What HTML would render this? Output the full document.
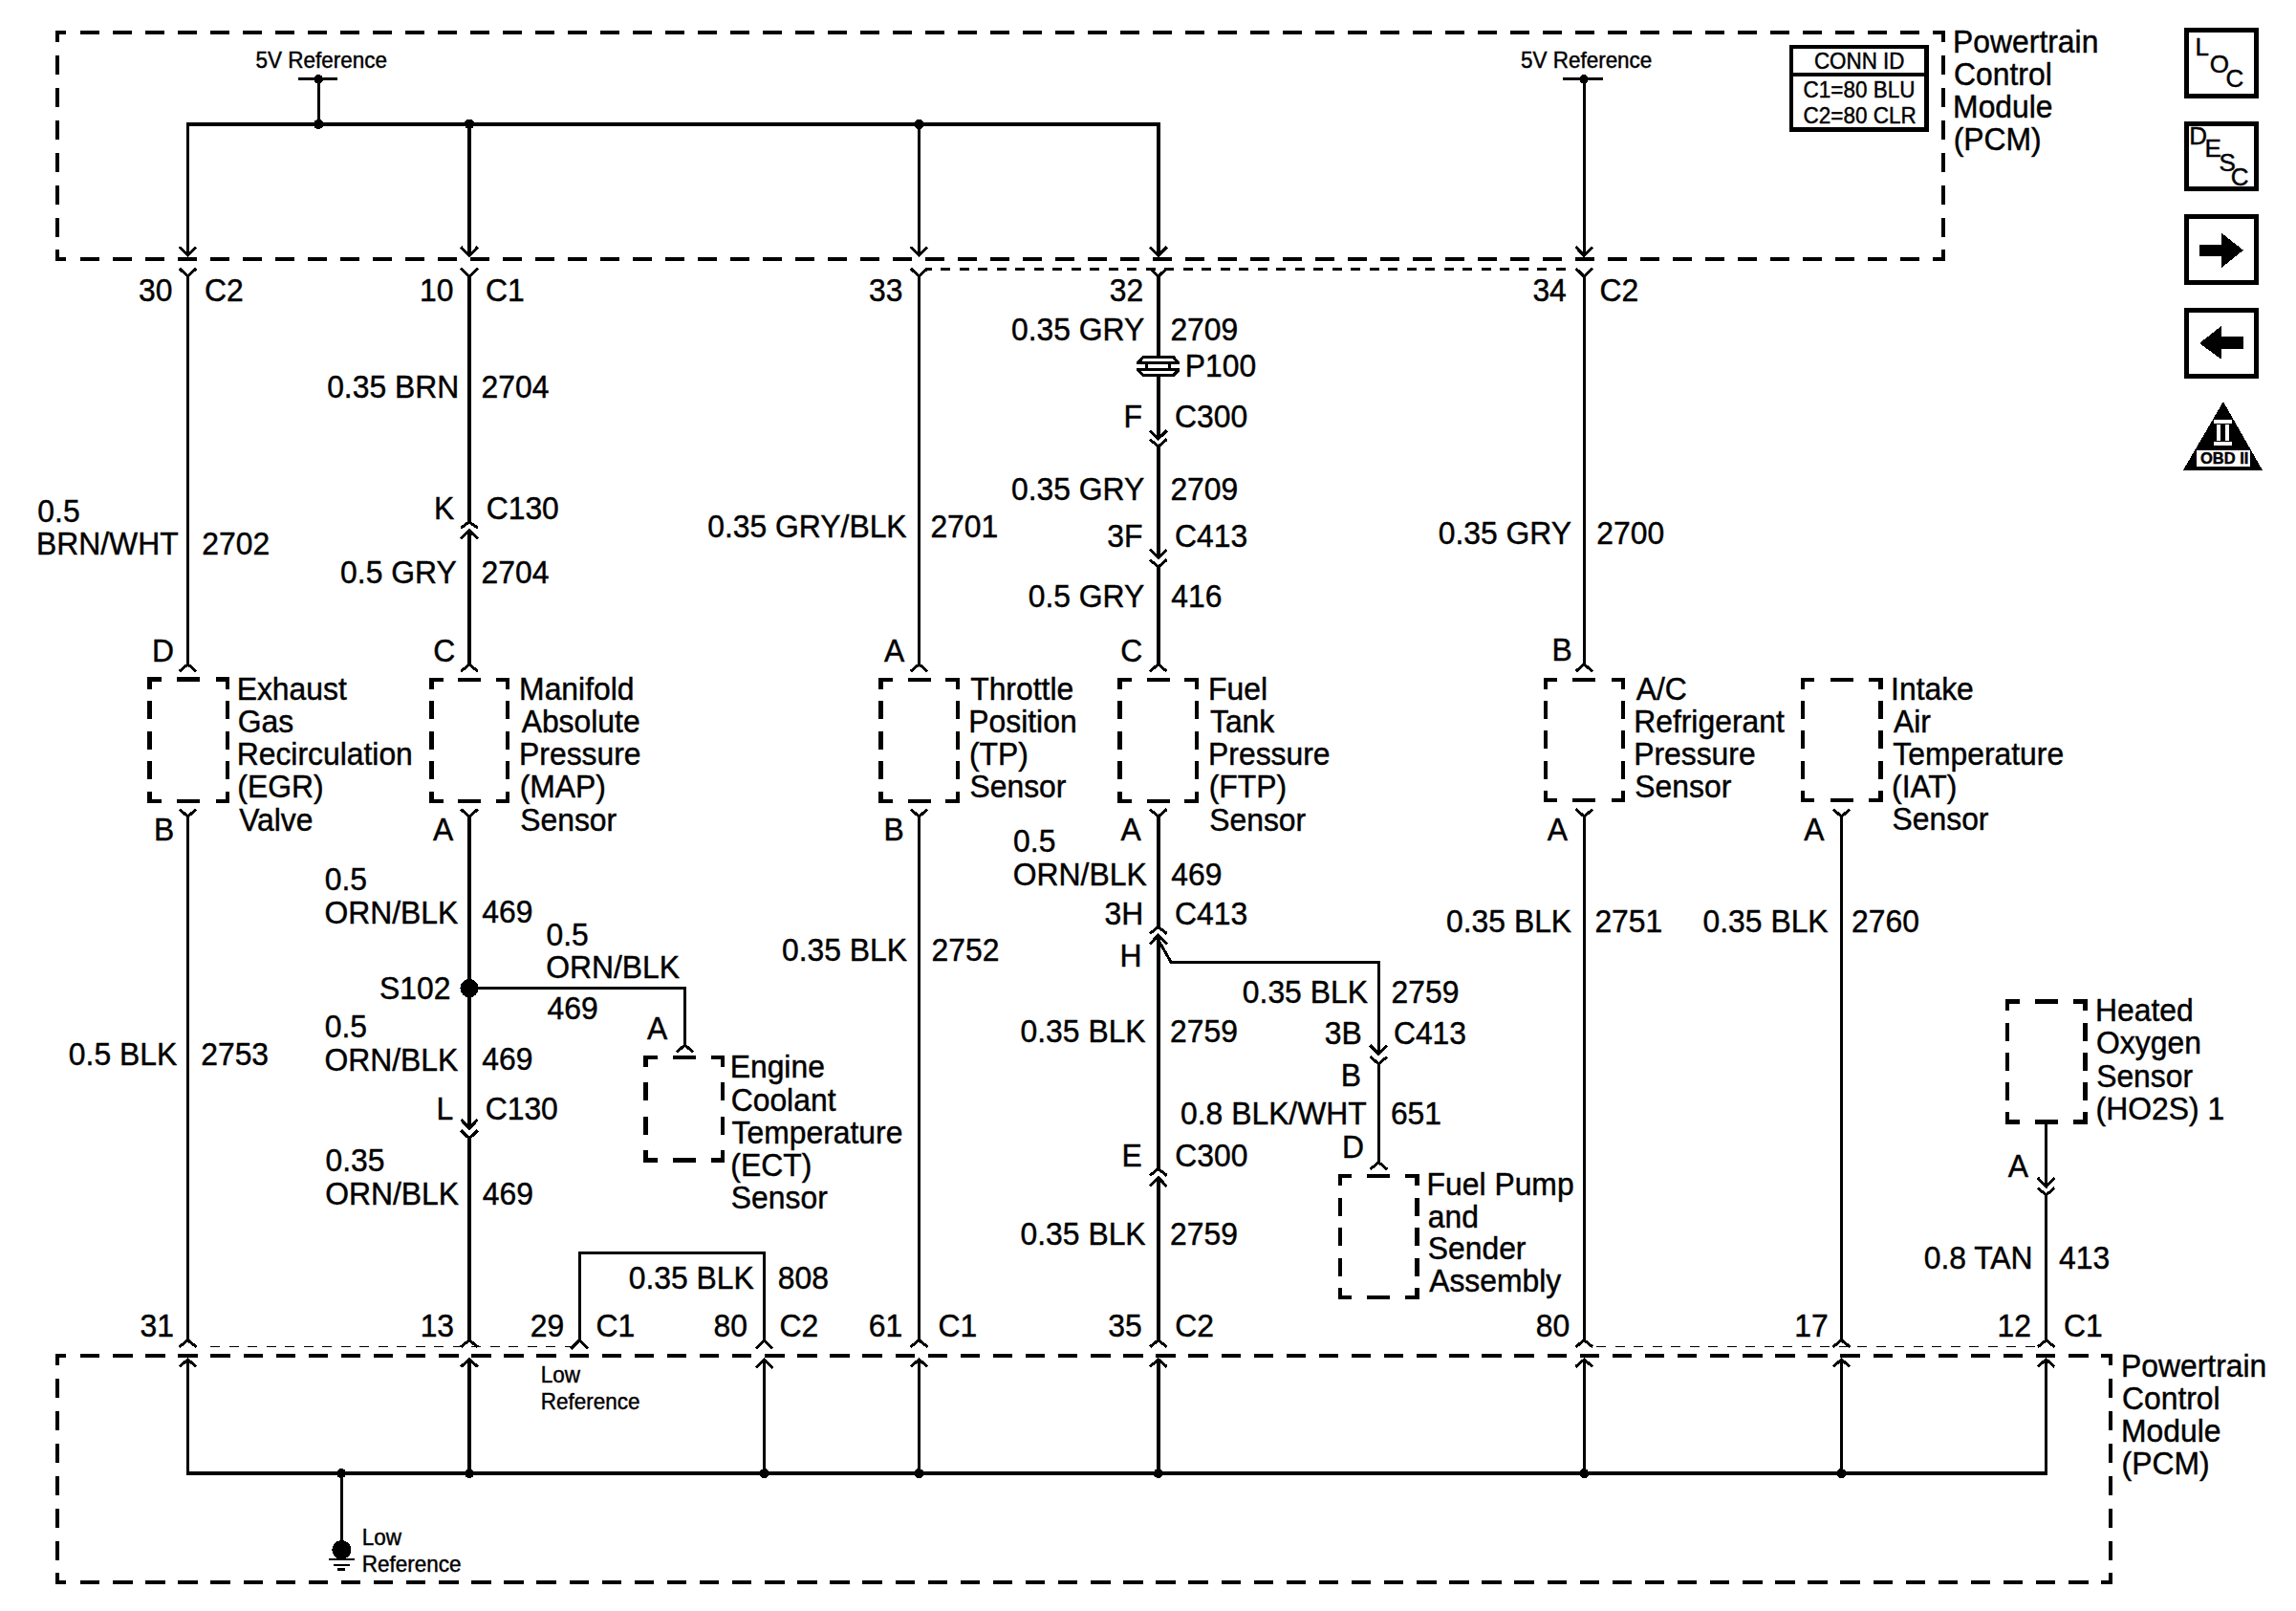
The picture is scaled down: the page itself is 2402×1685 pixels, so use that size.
<!DOCTYPE html>
<html><head><meta charset="utf-8"><title>PCM Sensor Wiring Diagram</title>
<style>
html,body{margin:0;padding:0;background:#fff;width:2402px;height:1685px;overflow:hidden}
svg{display:block}
text{font-family:"Liberation Sans",sans-serif;stroke:#000;stroke-width:0.45px}
</style></head>
<body>
<svg width="2402" height="1685" viewBox="0 0 2402 1685" stroke="#000" stroke-linecap="butt" fill="none" shape-rendering="crispEdges">
<rect x="0" y="0" width="2402" height="1685" fill="#fff" stroke="none"/>
<polyline points="69.10,33.80 59.60,33.80 59.60,43.80" fill="none" stroke-width="4" stroke-linecap="butt" stroke-linejoin="miter"/>
<polyline points="2022.20,33.80 2032.70,33.80 2032.70,43.80" fill="none" stroke-width="4" stroke-linecap="butt" stroke-linejoin="miter"/>
<polyline points="69.10,270.80 59.60,270.80 59.60,260.80" fill="none" stroke-width="4" stroke-linecap="butt" stroke-linejoin="miter"/>
<polyline points="2022.20,270.80 2032.70,270.80 2032.70,260.80" fill="none" stroke-width="4" stroke-linecap="butt" stroke-linejoin="miter"/>
<line x1="84.00" y1="33.80" x2="104.40" y2="33.80" stroke-width="4"/>
<line x1="118.00" y1="33.80" x2="138.40" y2="33.80" stroke-width="4"/>
<line x1="152.00" y1="33.80" x2="172.40" y2="33.80" stroke-width="4"/>
<line x1="186.00" y1="33.80" x2="206.40" y2="33.80" stroke-width="4"/>
<line x1="220.00" y1="33.80" x2="240.40" y2="33.80" stroke-width="4"/>
<line x1="254.00" y1="33.80" x2="274.40" y2="33.80" stroke-width="4"/>
<line x1="288.00" y1="33.80" x2="308.40" y2="33.80" stroke-width="4"/>
<line x1="322.00" y1="33.80" x2="342.40" y2="33.80" stroke-width="4"/>
<line x1="356.00" y1="33.80" x2="376.40" y2="33.80" stroke-width="4"/>
<line x1="390.00" y1="33.80" x2="410.40" y2="33.80" stroke-width="4"/>
<line x1="424.00" y1="33.80" x2="444.40" y2="33.80" stroke-width="4"/>
<line x1="458.00" y1="33.80" x2="478.40" y2="33.80" stroke-width="4"/>
<line x1="492.00" y1="33.80" x2="512.40" y2="33.80" stroke-width="4"/>
<line x1="526.00" y1="33.80" x2="546.40" y2="33.80" stroke-width="4"/>
<line x1="560.00" y1="33.80" x2="580.40" y2="33.80" stroke-width="4"/>
<line x1="594.00" y1="33.80" x2="614.40" y2="33.80" stroke-width="4"/>
<line x1="628.00" y1="33.80" x2="648.40" y2="33.80" stroke-width="4"/>
<line x1="662.00" y1="33.80" x2="682.40" y2="33.80" stroke-width="4"/>
<line x1="696.00" y1="33.80" x2="716.40" y2="33.80" stroke-width="4"/>
<line x1="730.00" y1="33.80" x2="750.40" y2="33.80" stroke-width="4"/>
<line x1="764.00" y1="33.80" x2="784.40" y2="33.80" stroke-width="4"/>
<line x1="798.00" y1="33.80" x2="818.40" y2="33.80" stroke-width="4"/>
<line x1="832.00" y1="33.80" x2="852.40" y2="33.80" stroke-width="4"/>
<line x1="866.00" y1="33.80" x2="886.40" y2="33.80" stroke-width="4"/>
<line x1="900.00" y1="33.80" x2="920.40" y2="33.80" stroke-width="4"/>
<line x1="934.00" y1="33.80" x2="954.40" y2="33.80" stroke-width="4"/>
<line x1="968.00" y1="33.80" x2="988.40" y2="33.80" stroke-width="4"/>
<line x1="1002.00" y1="33.80" x2="1022.40" y2="33.80" stroke-width="4"/>
<line x1="1036.00" y1="33.80" x2="1056.40" y2="33.80" stroke-width="4"/>
<line x1="1070.00" y1="33.80" x2="1090.40" y2="33.80" stroke-width="4"/>
<line x1="1104.00" y1="33.80" x2="1124.40" y2="33.80" stroke-width="4"/>
<line x1="1138.00" y1="33.80" x2="1158.40" y2="33.80" stroke-width="4"/>
<line x1="1172.00" y1="33.80" x2="1192.40" y2="33.80" stroke-width="4"/>
<line x1="1206.00" y1="33.80" x2="1226.40" y2="33.80" stroke-width="4"/>
<line x1="1240.00" y1="33.80" x2="1260.40" y2="33.80" stroke-width="4"/>
<line x1="1274.00" y1="33.80" x2="1294.40" y2="33.80" stroke-width="4"/>
<line x1="1308.00" y1="33.80" x2="1328.40" y2="33.80" stroke-width="4"/>
<line x1="1342.00" y1="33.80" x2="1362.40" y2="33.80" stroke-width="4"/>
<line x1="1376.00" y1="33.80" x2="1396.40" y2="33.80" stroke-width="4"/>
<line x1="1410.00" y1="33.80" x2="1430.40" y2="33.80" stroke-width="4"/>
<line x1="1444.00" y1="33.80" x2="1464.40" y2="33.80" stroke-width="4"/>
<line x1="1478.00" y1="33.80" x2="1498.40" y2="33.80" stroke-width="4"/>
<line x1="1512.00" y1="33.80" x2="1532.40" y2="33.80" stroke-width="4"/>
<line x1="1546.00" y1="33.80" x2="1566.40" y2="33.80" stroke-width="4"/>
<line x1="1580.00" y1="33.80" x2="1600.40" y2="33.80" stroke-width="4"/>
<line x1="1614.00" y1="33.80" x2="1634.40" y2="33.80" stroke-width="4"/>
<line x1="1648.00" y1="33.80" x2="1668.40" y2="33.80" stroke-width="4"/>
<line x1="1682.00" y1="33.80" x2="1702.40" y2="33.80" stroke-width="4"/>
<line x1="1716.00" y1="33.80" x2="1736.40" y2="33.80" stroke-width="4"/>
<line x1="1750.00" y1="33.80" x2="1770.40" y2="33.80" stroke-width="4"/>
<line x1="1784.00" y1="33.80" x2="1804.40" y2="33.80" stroke-width="4"/>
<line x1="1818.00" y1="33.80" x2="1838.40" y2="33.80" stroke-width="4"/>
<line x1="1852.00" y1="33.80" x2="1872.40" y2="33.80" stroke-width="4"/>
<line x1="1886.00" y1="33.80" x2="1906.40" y2="33.80" stroke-width="4"/>
<line x1="1920.00" y1="33.80" x2="1940.40" y2="33.80" stroke-width="4"/>
<line x1="1954.00" y1="33.80" x2="1974.40" y2="33.80" stroke-width="4"/>
<line x1="1988.00" y1="33.80" x2="2008.40" y2="33.80" stroke-width="4"/>
<line x1="84.00" y1="270.80" x2="104.40" y2="270.80" stroke-width="4"/>
<line x1="118.00" y1="270.80" x2="138.40" y2="270.80" stroke-width="4"/>
<line x1="152.00" y1="270.80" x2="172.40" y2="270.80" stroke-width="4"/>
<line x1="186.00" y1="270.80" x2="206.40" y2="270.80" stroke-width="4"/>
<line x1="220.00" y1="270.80" x2="240.40" y2="270.80" stroke-width="4"/>
<line x1="254.00" y1="270.80" x2="274.40" y2="270.80" stroke-width="4"/>
<line x1="288.00" y1="270.80" x2="308.40" y2="270.80" stroke-width="4"/>
<line x1="322.00" y1="270.80" x2="342.40" y2="270.80" stroke-width="4"/>
<line x1="356.00" y1="270.80" x2="376.40" y2="270.80" stroke-width="4"/>
<line x1="390.00" y1="270.80" x2="410.40" y2="270.80" stroke-width="4"/>
<line x1="424.00" y1="270.80" x2="444.40" y2="270.80" stroke-width="4"/>
<line x1="458.00" y1="270.80" x2="478.40" y2="270.80" stroke-width="4"/>
<line x1="492.00" y1="270.80" x2="512.40" y2="270.80" stroke-width="4"/>
<line x1="526.00" y1="270.80" x2="546.40" y2="270.80" stroke-width="4"/>
<line x1="560.00" y1="270.80" x2="580.40" y2="270.80" stroke-width="4"/>
<line x1="594.00" y1="270.80" x2="614.40" y2="270.80" stroke-width="4"/>
<line x1="628.00" y1="270.80" x2="648.40" y2="270.80" stroke-width="4"/>
<line x1="662.00" y1="270.80" x2="682.40" y2="270.80" stroke-width="4"/>
<line x1="696.00" y1="270.80" x2="716.40" y2="270.80" stroke-width="4"/>
<line x1="730.00" y1="270.80" x2="750.40" y2="270.80" stroke-width="4"/>
<line x1="764.00" y1="270.80" x2="784.40" y2="270.80" stroke-width="4"/>
<line x1="798.00" y1="270.80" x2="818.40" y2="270.80" stroke-width="4"/>
<line x1="832.00" y1="270.80" x2="852.40" y2="270.80" stroke-width="4"/>
<line x1="866.00" y1="270.80" x2="886.40" y2="270.80" stroke-width="4"/>
<line x1="900.00" y1="270.80" x2="920.40" y2="270.80" stroke-width="4"/>
<line x1="934.00" y1="270.80" x2="954.40" y2="270.80" stroke-width="4"/>
<line x1="968.00" y1="270.80" x2="988.40" y2="270.80" stroke-width="4"/>
<line x1="1002.00" y1="270.80" x2="1022.40" y2="270.80" stroke-width="4"/>
<line x1="1036.00" y1="270.80" x2="1056.40" y2="270.80" stroke-width="4"/>
<line x1="1070.00" y1="270.80" x2="1090.40" y2="270.80" stroke-width="4"/>
<line x1="1104.00" y1="270.80" x2="1124.40" y2="270.80" stroke-width="4"/>
<line x1="1138.00" y1="270.80" x2="1158.40" y2="270.80" stroke-width="4"/>
<line x1="1172.00" y1="270.80" x2="1192.40" y2="270.80" stroke-width="4"/>
<line x1="1206.00" y1="270.80" x2="1226.40" y2="270.80" stroke-width="4"/>
<line x1="1240.00" y1="270.80" x2="1260.40" y2="270.80" stroke-width="4"/>
<line x1="1274.00" y1="270.80" x2="1294.40" y2="270.80" stroke-width="4"/>
<line x1="1308.00" y1="270.80" x2="1328.40" y2="270.80" stroke-width="4"/>
<line x1="1342.00" y1="270.80" x2="1362.40" y2="270.80" stroke-width="4"/>
<line x1="1376.00" y1="270.80" x2="1396.40" y2="270.80" stroke-width="4"/>
<line x1="1410.00" y1="270.80" x2="1430.40" y2="270.80" stroke-width="4"/>
<line x1="1444.00" y1="270.80" x2="1464.40" y2="270.80" stroke-width="4"/>
<line x1="1478.00" y1="270.80" x2="1498.40" y2="270.80" stroke-width="4"/>
<line x1="1512.00" y1="270.80" x2="1532.40" y2="270.80" stroke-width="4"/>
<line x1="1546.00" y1="270.80" x2="1566.40" y2="270.80" stroke-width="4"/>
<line x1="1580.00" y1="270.80" x2="1600.40" y2="270.80" stroke-width="4"/>
<line x1="1614.00" y1="270.80" x2="1634.40" y2="270.80" stroke-width="4"/>
<line x1="1648.00" y1="270.80" x2="1668.40" y2="270.80" stroke-width="4"/>
<line x1="1682.00" y1="270.80" x2="1702.40" y2="270.80" stroke-width="4"/>
<line x1="1716.00" y1="270.80" x2="1736.40" y2="270.80" stroke-width="4"/>
<line x1="1750.00" y1="270.80" x2="1770.40" y2="270.80" stroke-width="4"/>
<line x1="1784.00" y1="270.80" x2="1804.40" y2="270.80" stroke-width="4"/>
<line x1="1818.00" y1="270.80" x2="1838.40" y2="270.80" stroke-width="4"/>
<line x1="1852.00" y1="270.80" x2="1872.40" y2="270.80" stroke-width="4"/>
<line x1="1886.00" y1="270.80" x2="1906.40" y2="270.80" stroke-width="4"/>
<line x1="1920.00" y1="270.80" x2="1940.40" y2="270.80" stroke-width="4"/>
<line x1="1954.00" y1="270.80" x2="1974.40" y2="270.80" stroke-width="4"/>
<line x1="1988.00" y1="270.80" x2="2008.40" y2="270.80" stroke-width="4"/>
<line x1="59.60" y1="58.20" x2="59.60" y2="77.80" stroke-width="4"/>
<line x1="59.60" y1="92.20" x2="59.60" y2="111.80" stroke-width="4"/>
<line x1="59.60" y1="126.20" x2="59.60" y2="145.80" stroke-width="4"/>
<line x1="59.60" y1="160.20" x2="59.60" y2="179.80" stroke-width="4"/>
<line x1="59.60" y1="194.20" x2="59.60" y2="213.80" stroke-width="4"/>
<line x1="59.60" y1="228.20" x2="59.60" y2="247.80" stroke-width="4"/>
<line x1="2032.70" y1="58.20" x2="2032.70" y2="77.80" stroke-width="4"/>
<line x1="2032.70" y1="92.20" x2="2032.70" y2="111.80" stroke-width="4"/>
<line x1="2032.70" y1="126.20" x2="2032.70" y2="145.80" stroke-width="4"/>
<line x1="2032.70" y1="160.20" x2="2032.70" y2="179.80" stroke-width="4"/>
<line x1="2032.70" y1="194.20" x2="2032.70" y2="213.80" stroke-width="4"/>
<line x1="2032.70" y1="228.20" x2="2032.70" y2="247.80" stroke-width="4"/>
<polyline points="68.90,1417.90 59.50,1417.90 59.50,1427.60" fill="none" stroke-width="4" stroke-linecap="butt" stroke-linejoin="miter"/>
<polyline points="2197.80,1417.90 2207.90,1417.90 2207.90,1427.60" fill="none" stroke-width="4" stroke-linecap="butt" stroke-linejoin="miter"/>
<polyline points="68.90,1655.20 59.50,1655.20 59.50,1644.90" fill="none" stroke-width="4" stroke-linecap="butt" stroke-linejoin="miter"/>
<polyline points="2197.80,1655.20 2207.90,1655.20 2207.90,1644.90" fill="none" stroke-width="4" stroke-linecap="butt" stroke-linejoin="miter"/>
<line x1="84.00" y1="1417.90" x2="104.40" y2="1417.90" stroke-width="4"/>
<line x1="118.10" y1="1417.90" x2="138.50" y2="1417.90" stroke-width="4"/>
<line x1="152.20" y1="1417.90" x2="172.60" y2="1417.90" stroke-width="4"/>
<line x1="186.30" y1="1417.90" x2="206.70" y2="1417.90" stroke-width="4"/>
<line x1="220.40" y1="1417.90" x2="240.80" y2="1417.90" stroke-width="4"/>
<line x1="254.50" y1="1417.90" x2="274.90" y2="1417.90" stroke-width="4"/>
<line x1="288.60" y1="1417.90" x2="309.00" y2="1417.90" stroke-width="4"/>
<line x1="322.70" y1="1417.90" x2="343.10" y2="1417.90" stroke-width="4"/>
<line x1="356.80" y1="1417.90" x2="377.20" y2="1417.90" stroke-width="4"/>
<line x1="390.90" y1="1417.90" x2="411.30" y2="1417.90" stroke-width="4"/>
<line x1="425.00" y1="1417.90" x2="445.40" y2="1417.90" stroke-width="4"/>
<line x1="459.10" y1="1417.90" x2="479.50" y2="1417.90" stroke-width="4"/>
<line x1="493.20" y1="1417.90" x2="513.60" y2="1417.90" stroke-width="4"/>
<line x1="527.30" y1="1417.90" x2="547.70" y2="1417.90" stroke-width="4"/>
<line x1="561.40" y1="1417.90" x2="581.80" y2="1417.90" stroke-width="4"/>
<line x1="595.50" y1="1417.90" x2="615.90" y2="1417.90" stroke-width="4"/>
<line x1="629.60" y1="1417.90" x2="650.00" y2="1417.90" stroke-width="4"/>
<line x1="663.70" y1="1417.90" x2="684.10" y2="1417.90" stroke-width="4"/>
<line x1="697.80" y1="1417.90" x2="718.20" y2="1417.90" stroke-width="4"/>
<line x1="731.90" y1="1417.90" x2="752.30" y2="1417.90" stroke-width="4"/>
<line x1="766.00" y1="1417.90" x2="786.40" y2="1417.90" stroke-width="4"/>
<line x1="800.10" y1="1417.90" x2="820.50" y2="1417.90" stroke-width="4"/>
<line x1="834.20" y1="1417.90" x2="854.60" y2="1417.90" stroke-width="4"/>
<line x1="868.30" y1="1417.90" x2="888.70" y2="1417.90" stroke-width="4"/>
<line x1="902.40" y1="1417.90" x2="922.80" y2="1417.90" stroke-width="4"/>
<line x1="936.50" y1="1417.90" x2="956.90" y2="1417.90" stroke-width="4"/>
<line x1="970.60" y1="1417.90" x2="991.00" y2="1417.90" stroke-width="4"/>
<line x1="1004.70" y1="1417.90" x2="1025.10" y2="1417.90" stroke-width="4"/>
<line x1="1038.80" y1="1417.90" x2="1059.20" y2="1417.90" stroke-width="4"/>
<line x1="1072.90" y1="1417.90" x2="1093.30" y2="1417.90" stroke-width="4"/>
<line x1="1107.00" y1="1417.90" x2="1127.40" y2="1417.90" stroke-width="4"/>
<line x1="1141.10" y1="1417.90" x2="1161.50" y2="1417.90" stroke-width="4"/>
<line x1="1175.20" y1="1417.90" x2="1195.60" y2="1417.90" stroke-width="4"/>
<line x1="1209.30" y1="1417.90" x2="1229.70" y2="1417.90" stroke-width="4"/>
<line x1="1243.40" y1="1417.90" x2="1263.80" y2="1417.90" stroke-width="4"/>
<line x1="1277.50" y1="1417.90" x2="1297.90" y2="1417.90" stroke-width="4"/>
<line x1="1311.60" y1="1417.90" x2="1332.00" y2="1417.90" stroke-width="4"/>
<line x1="1345.70" y1="1417.90" x2="1366.10" y2="1417.90" stroke-width="4"/>
<line x1="1379.80" y1="1417.90" x2="1400.20" y2="1417.90" stroke-width="4"/>
<line x1="1413.90" y1="1417.90" x2="1434.30" y2="1417.90" stroke-width="4"/>
<line x1="1448.00" y1="1417.90" x2="1468.40" y2="1417.90" stroke-width="4"/>
<line x1="1482.10" y1="1417.90" x2="1502.50" y2="1417.90" stroke-width="4"/>
<line x1="1516.20" y1="1417.90" x2="1536.60" y2="1417.90" stroke-width="4"/>
<line x1="1550.30" y1="1417.90" x2="1570.70" y2="1417.90" stroke-width="4"/>
<line x1="1584.40" y1="1417.90" x2="1604.80" y2="1417.90" stroke-width="4"/>
<line x1="1618.50" y1="1417.90" x2="1638.90" y2="1417.90" stroke-width="4"/>
<line x1="1652.60" y1="1417.90" x2="1673.00" y2="1417.90" stroke-width="4"/>
<line x1="1686.70" y1="1417.90" x2="1707.10" y2="1417.90" stroke-width="4"/>
<line x1="1720.80" y1="1417.90" x2="1741.20" y2="1417.90" stroke-width="4"/>
<line x1="1754.90" y1="1417.90" x2="1775.30" y2="1417.90" stroke-width="4"/>
<line x1="1789.00" y1="1417.90" x2="1809.40" y2="1417.90" stroke-width="4"/>
<line x1="1823.10" y1="1417.90" x2="1843.50" y2="1417.90" stroke-width="4"/>
<line x1="1857.20" y1="1417.90" x2="1877.60" y2="1417.90" stroke-width="4"/>
<line x1="1891.30" y1="1417.90" x2="1911.70" y2="1417.90" stroke-width="4"/>
<line x1="1925.40" y1="1417.90" x2="1945.80" y2="1417.90" stroke-width="4"/>
<line x1="1959.50" y1="1417.90" x2="1979.90" y2="1417.90" stroke-width="4"/>
<line x1="1993.60" y1="1417.90" x2="2014.00" y2="1417.90" stroke-width="4"/>
<line x1="2027.70" y1="1417.90" x2="2048.10" y2="1417.90" stroke-width="4"/>
<line x1="2061.80" y1="1417.90" x2="2082.20" y2="1417.90" stroke-width="4"/>
<line x1="2095.90" y1="1417.90" x2="2116.30" y2="1417.90" stroke-width="4"/>
<line x1="2130.00" y1="1417.90" x2="2150.40" y2="1417.90" stroke-width="4"/>
<line x1="2164.10" y1="1417.90" x2="2184.50" y2="1417.90" stroke-width="4"/>
<line x1="84.00" y1="1655.20" x2="104.40" y2="1655.20" stroke-width="4"/>
<line x1="118.10" y1="1655.20" x2="138.50" y2="1655.20" stroke-width="4"/>
<line x1="152.20" y1="1655.20" x2="172.60" y2="1655.20" stroke-width="4"/>
<line x1="186.30" y1="1655.20" x2="206.70" y2="1655.20" stroke-width="4"/>
<line x1="220.40" y1="1655.20" x2="240.80" y2="1655.20" stroke-width="4"/>
<line x1="254.50" y1="1655.20" x2="274.90" y2="1655.20" stroke-width="4"/>
<line x1="288.60" y1="1655.20" x2="309.00" y2="1655.20" stroke-width="4"/>
<line x1="322.70" y1="1655.20" x2="343.10" y2="1655.20" stroke-width="4"/>
<line x1="356.80" y1="1655.20" x2="377.20" y2="1655.20" stroke-width="4"/>
<line x1="390.90" y1="1655.20" x2="411.30" y2="1655.20" stroke-width="4"/>
<line x1="425.00" y1="1655.20" x2="445.40" y2="1655.20" stroke-width="4"/>
<line x1="459.10" y1="1655.20" x2="479.50" y2="1655.20" stroke-width="4"/>
<line x1="493.20" y1="1655.20" x2="513.60" y2="1655.20" stroke-width="4"/>
<line x1="527.30" y1="1655.20" x2="547.70" y2="1655.20" stroke-width="4"/>
<line x1="561.40" y1="1655.20" x2="581.80" y2="1655.20" stroke-width="4"/>
<line x1="595.50" y1="1655.20" x2="615.90" y2="1655.20" stroke-width="4"/>
<line x1="629.60" y1="1655.20" x2="650.00" y2="1655.20" stroke-width="4"/>
<line x1="663.70" y1="1655.20" x2="684.10" y2="1655.20" stroke-width="4"/>
<line x1="697.80" y1="1655.20" x2="718.20" y2="1655.20" stroke-width="4"/>
<line x1="731.90" y1="1655.20" x2="752.30" y2="1655.20" stroke-width="4"/>
<line x1="766.00" y1="1655.20" x2="786.40" y2="1655.20" stroke-width="4"/>
<line x1="800.10" y1="1655.20" x2="820.50" y2="1655.20" stroke-width="4"/>
<line x1="834.20" y1="1655.20" x2="854.60" y2="1655.20" stroke-width="4"/>
<line x1="868.30" y1="1655.20" x2="888.70" y2="1655.20" stroke-width="4"/>
<line x1="902.40" y1="1655.20" x2="922.80" y2="1655.20" stroke-width="4"/>
<line x1="936.50" y1="1655.20" x2="956.90" y2="1655.20" stroke-width="4"/>
<line x1="970.60" y1="1655.20" x2="991.00" y2="1655.20" stroke-width="4"/>
<line x1="1004.70" y1="1655.20" x2="1025.10" y2="1655.20" stroke-width="4"/>
<line x1="1038.80" y1="1655.20" x2="1059.20" y2="1655.20" stroke-width="4"/>
<line x1="1072.90" y1="1655.20" x2="1093.30" y2="1655.20" stroke-width="4"/>
<line x1="1107.00" y1="1655.20" x2="1127.40" y2="1655.20" stroke-width="4"/>
<line x1="1141.10" y1="1655.20" x2="1161.50" y2="1655.20" stroke-width="4"/>
<line x1="1175.20" y1="1655.20" x2="1195.60" y2="1655.20" stroke-width="4"/>
<line x1="1209.30" y1="1655.20" x2="1229.70" y2="1655.20" stroke-width="4"/>
<line x1="1243.40" y1="1655.20" x2="1263.80" y2="1655.20" stroke-width="4"/>
<line x1="1277.50" y1="1655.20" x2="1297.90" y2="1655.20" stroke-width="4"/>
<line x1="1311.60" y1="1655.20" x2="1332.00" y2="1655.20" stroke-width="4"/>
<line x1="1345.70" y1="1655.20" x2="1366.10" y2="1655.20" stroke-width="4"/>
<line x1="1379.80" y1="1655.20" x2="1400.20" y2="1655.20" stroke-width="4"/>
<line x1="1413.90" y1="1655.20" x2="1434.30" y2="1655.20" stroke-width="4"/>
<line x1="1448.00" y1="1655.20" x2="1468.40" y2="1655.20" stroke-width="4"/>
<line x1="1482.10" y1="1655.20" x2="1502.50" y2="1655.20" stroke-width="4"/>
<line x1="1516.20" y1="1655.20" x2="1536.60" y2="1655.20" stroke-width="4"/>
<line x1="1550.30" y1="1655.20" x2="1570.70" y2="1655.20" stroke-width="4"/>
<line x1="1584.40" y1="1655.20" x2="1604.80" y2="1655.20" stroke-width="4"/>
<line x1="1618.50" y1="1655.20" x2="1638.90" y2="1655.20" stroke-width="4"/>
<line x1="1652.60" y1="1655.20" x2="1673.00" y2="1655.20" stroke-width="4"/>
<line x1="1686.70" y1="1655.20" x2="1707.10" y2="1655.20" stroke-width="4"/>
<line x1="1720.80" y1="1655.20" x2="1741.20" y2="1655.20" stroke-width="4"/>
<line x1="1754.90" y1="1655.20" x2="1775.30" y2="1655.20" stroke-width="4"/>
<line x1="1789.00" y1="1655.20" x2="1809.40" y2="1655.20" stroke-width="4"/>
<line x1="1823.10" y1="1655.20" x2="1843.50" y2="1655.20" stroke-width="4"/>
<line x1="1857.20" y1="1655.20" x2="1877.60" y2="1655.20" stroke-width="4"/>
<line x1="1891.30" y1="1655.20" x2="1911.70" y2="1655.20" stroke-width="4"/>
<line x1="1925.40" y1="1655.20" x2="1945.80" y2="1655.20" stroke-width="4"/>
<line x1="1959.50" y1="1655.20" x2="1979.90" y2="1655.20" stroke-width="4"/>
<line x1="1993.60" y1="1655.20" x2="2014.00" y2="1655.20" stroke-width="4"/>
<line x1="2027.70" y1="1655.20" x2="2048.10" y2="1655.20" stroke-width="4"/>
<line x1="2061.80" y1="1655.20" x2="2082.20" y2="1655.20" stroke-width="4"/>
<line x1="2095.90" y1="1655.20" x2="2116.30" y2="1655.20" stroke-width="4"/>
<line x1="2130.00" y1="1655.20" x2="2150.40" y2="1655.20" stroke-width="4"/>
<line x1="2164.10" y1="1655.20" x2="2184.50" y2="1655.20" stroke-width="4"/>
<line x1="59.50" y1="1442.20" x2="59.50" y2="1461.80" stroke-width="4"/>
<line x1="59.50" y1="1476.20" x2="59.50" y2="1495.80" stroke-width="4"/>
<line x1="59.50" y1="1510.20" x2="59.50" y2="1529.80" stroke-width="4"/>
<line x1="59.50" y1="1544.20" x2="59.50" y2="1563.80" stroke-width="4"/>
<line x1="59.50" y1="1578.20" x2="59.50" y2="1597.80" stroke-width="4"/>
<line x1="59.50" y1="1612.20" x2="59.50" y2="1631.80" stroke-width="4"/>
<line x1="2207.90" y1="1442.20" x2="2207.90" y2="1461.80" stroke-width="4"/>
<line x1="2207.90" y1="1476.20" x2="2207.90" y2="1495.80" stroke-width="4"/>
<line x1="2207.90" y1="1510.20" x2="2207.90" y2="1529.80" stroke-width="4"/>
<line x1="2207.90" y1="1544.20" x2="2207.90" y2="1563.80" stroke-width="4"/>
<line x1="2207.90" y1="1578.20" x2="2207.90" y2="1597.80" stroke-width="4"/>
<line x1="2207.90" y1="1612.20" x2="2207.90" y2="1631.80" stroke-width="4"/>
<line x1="196.50" y1="129.90" x2="1211.80" y2="129.90" stroke-width="4"/>
<line x1="312.00" y1="82.60" x2="353.00" y2="82.60" stroke-width="3"/>
<circle cx="333.20" cy="82.80" r="4.8" fill="#000" stroke="none"/>
<line x1="333.20" y1="82.60" x2="333.20" y2="129.90" stroke-width="3"/>
<circle cx="333.20" cy="129.90" r="5.2" fill="#000" stroke="none"/>
<line x1="1635.00" y1="82.60" x2="1677.00" y2="82.60" stroke-width="3"/>
<circle cx="1657.00" cy="82.80" r="4.8" fill="#000" stroke="none"/>
<circle cx="491.00" cy="129.90" r="5.2" fill="#000" stroke="none"/>
<circle cx="961.50" cy="129.90" r="5.2" fill="#000" stroke="none"/>
<line x1="196.50" y1="1541.10" x2="2140.70" y2="1541.10" stroke-width="4"/>
<circle cx="357.10" cy="1541.10" r="5.0" fill="#000" stroke="none"/>
<circle cx="491.00" cy="1541.10" r="5.0" fill="#000" stroke="none"/>
<circle cx="799.60" cy="1541.10" r="5.0" fill="#000" stroke="none"/>
<circle cx="961.50" cy="1541.10" r="5.0" fill="#000" stroke="none"/>
<circle cx="1211.80" cy="1541.10" r="5.0" fill="#000" stroke="none"/>
<circle cx="1657.30" cy="1541.10" r="5.0" fill="#000" stroke="none"/>
<circle cx="1926.50" cy="1541.10" r="5.0" fill="#000" stroke="none"/>
<line x1="357.10" y1="1541.10" x2="357.10" y2="1615.00" stroke-width="3"/>
<circle cx="357.40" cy="1621.00" r="10.0" fill="#000" stroke="none"/>
<line x1="344.00" y1="1631.00" x2="371.00" y2="1631.00" stroke-width="2.2"/>
<line x1="349.10" y1="1637.10" x2="366.00" y2="1637.10" stroke-width="2.0"/>
<line x1="353.00" y1="1641.50" x2="361.00" y2="1641.50" stroke-width="3.0"/>
<line x1="196.50" y1="127.90" x2="196.50" y2="267.30" stroke-width="3"/>
<polyline points="187.70,258.30 196.50,267.30 205.30,258.30" fill="none" stroke-width="3.0" stroke-linejoin="miter"/>
<polyline points="187.70,280.70 196.50,289.20 205.30,280.70" fill="none" stroke-width="3.0"/>
<line x1="196.50" y1="289.20" x2="196.50" y2="694.80" stroke-width="3"/>
<polyline points="187.70,702.30 196.50,694.80 205.30,702.30" fill="none" stroke-width="3.0"/>
<polyline points="187.70,846.50 196.50,854.00 205.30,846.50" fill="none" stroke-width="3.0"/>
<line x1="196.50" y1="854.00" x2="196.50" y2="1401.80" stroke-width="3"/>
<polyline points="187.70,1408.80 196.50,1401.80 205.30,1408.80" fill="none" stroke-width="3.0"/>
<polyline points="187.70,1429.50 196.50,1422.00 205.30,1429.50" fill="none" stroke-width="3.0"/>
<line x1="196.50" y1="1422.00" x2="196.50" y2="1543.10" stroke-width="3"/>
<line x1="491.00" y1="129.90" x2="491.00" y2="267.30" stroke-width="4"/>
<polyline points="482.20,258.30 491.00,267.30 499.80,258.30" fill="none" stroke-width="3.0" stroke-linejoin="miter"/>
<polyline points="482.20,280.70 491.00,289.20 499.80,280.70" fill="none" stroke-width="3.0"/>
<line x1="491.00" y1="289.20" x2="491.00" y2="545.80" stroke-width="4"/>
<polyline points="482.20,552.30 491.00,545.80 499.80,552.30" fill="none" stroke-width="3.0"/>
<polyline points="482.20,563.50 491.00,555.00 499.80,563.50" fill="none" stroke-width="3.0"/>
<line x1="491.00" y1="555.00" x2="491.00" y2="694.80" stroke-width="4"/>
<polyline points="482.20,702.30 491.00,694.80 499.80,702.30" fill="none" stroke-width="3.0"/>
<polyline points="482.20,846.50 491.00,854.00 499.80,846.50" fill="none" stroke-width="3.0"/>
<line x1="491.00" y1="854.00" x2="491.00" y2="1180.40" stroke-width="4"/>
<polyline points="482.20,1170.90 491.00,1180.40 499.80,1170.90" fill="none" stroke-width="3.0" stroke-linejoin="miter"/>
<polyline points="482.20,1182.30 491.00,1190.80 499.80,1182.30" fill="none" stroke-width="3.0"/>
<line x1="491.00" y1="1190.80" x2="491.00" y2="1401.80" stroke-width="4"/>
<polyline points="482.20,1408.80 491.00,1401.80 499.80,1408.80" fill="none" stroke-width="3.0"/>
<polyline points="482.20,1429.50 491.00,1422.00 499.80,1429.50" fill="none" stroke-width="3.0"/>
<line x1="491.00" y1="1422.00" x2="491.00" y2="1541.10" stroke-width="4"/>
<circle cx="491.00" cy="1033.60" r="9.6" fill="#000" stroke="none"/>
<polyline points="491.00,1033.60 716.50,1033.60 716.50,1093.00" fill="none" stroke-width="3"/>
<polyline points="707.70,1100.50 716.50,1093.00 725.30,1100.50" fill="none" stroke-width="3.0"/>
<polyline points="606.20,1401.80 606.20,1310.30 799.60,1310.30 799.60,1401.80" fill="none" stroke-width="3"/>
<polyline points="597.40,1410.60 606.20,1401.80 615.00,1410.60" fill="none" stroke-width="3.0"/>
<polyline points="790.80,1410.60 799.60,1401.80 808.40,1410.60" fill="none" stroke-width="3.0"/>
<polyline points="790.80,1430.80 799.60,1422.00 808.40,1430.80" fill="none" stroke-width="3.0"/>
<line x1="799.60" y1="1422.00" x2="799.60" y2="1541.10" stroke-width="3"/>
<line x1="961.50" y1="129.90" x2="961.50" y2="267.30" stroke-width="3"/>
<polyline points="952.70,258.30 961.50,267.30 970.30,258.30" fill="none" stroke-width="3.0" stroke-linejoin="miter"/>
<polyline points="952.70,280.70 961.50,289.20 970.30,280.70" fill="none" stroke-width="3.0"/>
<line x1="961.50" y1="289.20" x2="961.50" y2="694.80" stroke-width="3"/>
<polyline points="952.70,702.30 961.50,694.80 970.30,702.30" fill="none" stroke-width="3.0"/>
<polyline points="952.70,846.50 961.50,854.00 970.30,846.50" fill="none" stroke-width="3.0"/>
<line x1="961.50" y1="854.00" x2="961.50" y2="1401.80" stroke-width="3"/>
<polyline points="952.70,1408.80 961.50,1401.80 970.30,1408.80" fill="none" stroke-width="3.0"/>
<polyline points="952.70,1429.50 961.50,1422.00 970.30,1429.50" fill="none" stroke-width="3.0"/>
<line x1="961.50" y1="1422.00" x2="961.50" y2="1541.10" stroke-width="3"/>
<line x1="1211.80" y1="127.90" x2="1211.80" y2="267.30" stroke-width="4"/>
<polyline points="1203.00,258.30 1211.80,267.30 1220.60,258.30" fill="none" stroke-width="3.0" stroke-linejoin="miter"/>
<polyline points="1203.00,280.70 1211.80,289.20 1220.60,280.70" fill="none" stroke-width="3.0"/>
<line x1="1211.80" y1="289.20" x2="1211.80" y2="372.50" stroke-width="4"/>
<polyline points="1190.50,379.60 1196.00,373.60 1227.50,373.60 1233.00,379.60" fill="none" stroke-width="3.2"/>
<line x1="1189.20" y1="379.60" x2="1234.00" y2="379.60" stroke-width="3.2"/>
<line x1="1189.20" y1="386.80" x2="1234.00" y2="386.80" stroke-width="3.2"/>
<line x1="1199.50" y1="379.60" x2="1199.50" y2="386.80" stroke-width="2.8"/>
<line x1="1223.50" y1="379.60" x2="1223.50" y2="386.80" stroke-width="2.8"/>
<polyline points="1190.50,386.80 1196.00,392.60 1227.50,392.60 1233.00,386.80" fill="none" stroke-width="3.2"/>
<line x1="1211.80" y1="392.60" x2="1211.80" y2="459.00" stroke-width="4"/>
<polyline points="1203.00,450.50 1211.80,459.00 1220.60,450.50" fill="none" stroke-width="3.0" stroke-linejoin="miter"/>
<polyline points="1203.00,459.50 1211.80,467.00 1220.60,459.50" fill="none" stroke-width="3.0"/>
<line x1="1211.80" y1="467.00" x2="1211.80" y2="583.30" stroke-width="4"/>
<polyline points="1203.00,574.80 1211.80,583.30 1220.60,574.80" fill="none" stroke-width="3.0" stroke-linejoin="miter"/>
<polyline points="1203.00,585.50 1211.80,593.00 1220.60,585.50" fill="none" stroke-width="3.0"/>
<line x1="1211.80" y1="593.00" x2="1211.80" y2="694.80" stroke-width="4"/>
<polyline points="1203.00,702.30 1211.80,694.80 1220.60,702.30" fill="none" stroke-width="3.0"/>
<polyline points="1203.00,846.50 1211.80,854.00 1220.60,846.50" fill="none" stroke-width="3.0"/>
<line x1="1211.80" y1="854.00" x2="1211.80" y2="969.50" stroke-width="4"/>
<polyline points="1203.00,976.50 1211.80,969.50 1220.60,976.50" fill="none" stroke-width="3.0"/>
<polyline points="1203.00,987.50 1211.80,978.00 1220.60,987.50" fill="none" stroke-width="3.0"/>
<line x1="1211.80" y1="978.00" x2="1211.80" y2="1222.50" stroke-width="4"/>
<polyline points="1203.00,1229.50 1211.80,1222.50 1220.60,1229.50" fill="none" stroke-width="3.0"/>
<polyline points="1203.00,1240.80 1211.80,1231.80 1220.60,1240.80" fill="none" stroke-width="3.0"/>
<line x1="1211.80" y1="1230.60" x2="1211.80" y2="1401.80" stroke-width="4"/>
<polyline points="1203.00,1408.80 1211.80,1401.80 1220.60,1408.80" fill="none" stroke-width="3.0"/>
<polyline points="1203.00,1429.50 1211.80,1422.00 1220.60,1429.50" fill="none" stroke-width="3.0"/>
<line x1="1211.80" y1="1422.00" x2="1211.80" y2="1541.10" stroke-width="4"/>
<polyline points="1212.80,985.00 1225.30,1006.70 1442.30,1006.70 1442.30,1102.40" fill="none" stroke-width="3"/>
<polyline points="1433.50,1093.40 1442.30,1102.40 1451.10,1093.40" fill="none" stroke-width="3.0" stroke-linejoin="miter"/>
<polyline points="1433.50,1105.30 1442.30,1112.80 1451.10,1105.30" fill="none" stroke-width="3.0"/>
<line x1="1442.30" y1="1112.80" x2="1442.30" y2="1215.60" stroke-width="3"/>
<polyline points="1433.50,1223.10 1442.30,1215.60 1451.10,1223.10" fill="none" stroke-width="3.0"/>
<line x1="1657.30" y1="82.60" x2="1657.30" y2="267.30" stroke-width="3"/>
<polyline points="1648.50,258.30 1657.30,267.30 1666.10,258.30" fill="none" stroke-width="3.0" stroke-linejoin="miter"/>
<polyline points="1648.50,280.70 1657.30,289.20 1666.10,280.70" fill="none" stroke-width="3.0"/>
<line x1="1657.30" y1="289.20" x2="1657.30" y2="694.80" stroke-width="3"/>
<polyline points="1648.50,702.30 1657.30,694.80 1666.10,702.30" fill="none" stroke-width="3.0"/>
<polyline points="1648.50,846.50 1657.30,854.00 1666.10,846.50" fill="none" stroke-width="3.0"/>
<line x1="1657.30" y1="854.00" x2="1657.30" y2="1401.80" stroke-width="3"/>
<polyline points="1648.50,1408.80 1657.30,1401.80 1666.10,1408.80" fill="none" stroke-width="3.0"/>
<polyline points="1648.50,1429.50 1657.30,1422.00 1666.10,1429.50" fill="none" stroke-width="3.0"/>
<line x1="1657.30" y1="1422.00" x2="1657.30" y2="1541.10" stroke-width="3"/>
<polyline points="1917.70,846.50 1926.50,854.00 1935.30,846.50" fill="none" stroke-width="3.0"/>
<line x1="1926.50" y1="854.00" x2="1926.50" y2="1401.80" stroke-width="3"/>
<polyline points="1917.70,1408.80 1926.50,1401.80 1935.30,1408.80" fill="none" stroke-width="3.0"/>
<polyline points="1917.70,1429.50 1926.50,1422.00 1935.30,1429.50" fill="none" stroke-width="3.0"/>
<line x1="1926.50" y1="1422.00" x2="1926.50" y2="1541.10" stroke-width="3"/>
<line x1="2140.60" y1="1173.40" x2="2140.60" y2="1241.30" stroke-width="3"/>
<polyline points="2131.80,1231.80 2140.60,1241.30 2149.40,1231.80" fill="none" stroke-width="3.0" stroke-linejoin="miter"/>
<polyline points="2131.80,1242.50 2140.60,1250.00 2149.40,1242.50" fill="none" stroke-width="3.0"/>
<line x1="2140.60" y1="1250.00" x2="2140.60" y2="1401.80" stroke-width="3"/>
<polyline points="2131.80,1408.80 2140.60,1401.80 2149.40,1408.80" fill="none" stroke-width="3.0"/>
<polyline points="2131.80,1429.50 2140.60,1422.00 2149.40,1429.50" fill="none" stroke-width="3.0"/>
<line x1="2140.60" y1="1422.00" x2="2140.60" y2="1543.10" stroke-width="3"/>
<line x1="969.50" y1="281.60" x2="975.00" y2="281.60" stroke-width="3"/>
<line x1="984.10" y1="281.60" x2="994.10" y2="281.60" stroke-width="3"/>
<line x1="1003.60" y1="281.60" x2="1013.60" y2="281.60" stroke-width="3"/>
<line x1="1023.10" y1="281.60" x2="1033.10" y2="281.60" stroke-width="3"/>
<line x1="1042.60" y1="281.60" x2="1052.60" y2="281.60" stroke-width="3"/>
<line x1="1062.10" y1="281.60" x2="1072.10" y2="281.60" stroke-width="3"/>
<line x1="1081.60" y1="281.60" x2="1091.60" y2="281.60" stroke-width="3"/>
<line x1="1101.10" y1="281.60" x2="1111.10" y2="281.60" stroke-width="3"/>
<line x1="1120.60" y1="281.60" x2="1130.60" y2="281.60" stroke-width="3"/>
<line x1="1140.10" y1="281.60" x2="1150.10" y2="281.60" stroke-width="3"/>
<line x1="1159.60" y1="281.60" x2="1169.60" y2="281.60" stroke-width="3"/>
<line x1="1179.10" y1="281.60" x2="1189.10" y2="281.60" stroke-width="3"/>
<line x1="1198.60" y1="281.60" x2="1208.60" y2="281.60" stroke-width="3"/>
<line x1="1218.10" y1="281.60" x2="1228.10" y2="281.60" stroke-width="3"/>
<line x1="1237.60" y1="281.60" x2="1247.60" y2="281.60" stroke-width="3"/>
<line x1="1257.10" y1="281.60" x2="1267.10" y2="281.60" stroke-width="3"/>
<line x1="1276.60" y1="281.60" x2="1286.60" y2="281.60" stroke-width="3"/>
<line x1="1296.10" y1="281.60" x2="1306.10" y2="281.60" stroke-width="3"/>
<line x1="1315.60" y1="281.60" x2="1325.60" y2="281.60" stroke-width="3"/>
<line x1="1335.10" y1="281.60" x2="1345.10" y2="281.60" stroke-width="3"/>
<line x1="1354.60" y1="281.60" x2="1364.60" y2="281.60" stroke-width="3"/>
<line x1="1374.10" y1="281.60" x2="1384.10" y2="281.60" stroke-width="3"/>
<line x1="1393.60" y1="281.60" x2="1403.60" y2="281.60" stroke-width="3"/>
<line x1="1413.10" y1="281.60" x2="1423.10" y2="281.60" stroke-width="3"/>
<line x1="1432.60" y1="281.60" x2="1442.60" y2="281.60" stroke-width="3"/>
<line x1="1452.10" y1="281.60" x2="1462.10" y2="281.60" stroke-width="3"/>
<line x1="1471.60" y1="281.60" x2="1481.60" y2="281.60" stroke-width="3"/>
<line x1="1491.10" y1="281.60" x2="1501.10" y2="281.60" stroke-width="3"/>
<line x1="1510.60" y1="281.60" x2="1520.60" y2="281.60" stroke-width="3"/>
<line x1="1530.10" y1="281.60" x2="1540.10" y2="281.60" stroke-width="3"/>
<line x1="1549.60" y1="281.60" x2="1559.60" y2="281.60" stroke-width="3"/>
<line x1="1569.10" y1="281.60" x2="1579.10" y2="281.60" stroke-width="3"/>
<line x1="1588.60" y1="281.60" x2="1598.60" y2="281.60" stroke-width="3"/>
<line x1="1608.10" y1="281.60" x2="1618.10" y2="281.60" stroke-width="3"/>
<line x1="1627.60" y1="281.60" x2="1637.60" y2="281.60" stroke-width="3"/>
<line x1="220.10" y1="1408.60" x2="230.10" y2="1408.60" stroke-width="1.2"/>
<line x1="239.60" y1="1408.60" x2="249.60" y2="1408.60" stroke-width="1.2"/>
<line x1="259.10" y1="1408.60" x2="269.10" y2="1408.60" stroke-width="1.2"/>
<line x1="278.60" y1="1408.60" x2="288.60" y2="1408.60" stroke-width="1.2"/>
<line x1="298.10" y1="1408.60" x2="308.10" y2="1408.60" stroke-width="1.2"/>
<line x1="317.60" y1="1408.60" x2="327.60" y2="1408.60" stroke-width="1.2"/>
<line x1="337.10" y1="1408.60" x2="347.10" y2="1408.60" stroke-width="1.2"/>
<line x1="356.60" y1="1408.60" x2="366.60" y2="1408.60" stroke-width="1.2"/>
<line x1="376.10" y1="1408.60" x2="386.10" y2="1408.60" stroke-width="1.2"/>
<line x1="395.60" y1="1408.60" x2="405.60" y2="1408.60" stroke-width="1.2"/>
<line x1="415.10" y1="1408.60" x2="425.10" y2="1408.60" stroke-width="1.2"/>
<line x1="434.60" y1="1408.60" x2="444.60" y2="1408.60" stroke-width="1.2"/>
<line x1="454.10" y1="1408.60" x2="464.10" y2="1408.60" stroke-width="1.2"/>
<line x1="473.60" y1="1408.60" x2="483.60" y2="1408.60" stroke-width="1.2"/>
<line x1="493.10" y1="1408.60" x2="503.10" y2="1408.60" stroke-width="1.2"/>
<line x1="512.60" y1="1408.60" x2="522.60" y2="1408.60" stroke-width="1.2"/>
<line x1="532.10" y1="1408.60" x2="542.10" y2="1408.60" stroke-width="1.2"/>
<line x1="551.60" y1="1408.60" x2="561.60" y2="1408.60" stroke-width="1.2"/>
<line x1="571.10" y1="1408.60" x2="581.10" y2="1408.60" stroke-width="1.2"/>
<line x1="590.60" y1="1408.60" x2="597.00" y2="1408.60" stroke-width="1.2"/>
<line x1="1670.00" y1="1408.60" x2="1680.00" y2="1408.60" stroke-width="1.2"/>
<line x1="1689.50" y1="1408.60" x2="1699.50" y2="1408.60" stroke-width="1.2"/>
<line x1="1709.00" y1="1408.60" x2="1719.00" y2="1408.60" stroke-width="1.2"/>
<line x1="1728.50" y1="1408.60" x2="1738.50" y2="1408.60" stroke-width="1.2"/>
<line x1="1748.00" y1="1408.60" x2="1758.00" y2="1408.60" stroke-width="1.2"/>
<line x1="1767.50" y1="1408.60" x2="1777.50" y2="1408.60" stroke-width="1.2"/>
<line x1="1787.00" y1="1408.60" x2="1797.00" y2="1408.60" stroke-width="1.2"/>
<line x1="1806.50" y1="1408.60" x2="1816.50" y2="1408.60" stroke-width="1.2"/>
<line x1="1826.00" y1="1408.60" x2="1836.00" y2="1408.60" stroke-width="1.2"/>
<line x1="1845.50" y1="1408.60" x2="1855.50" y2="1408.60" stroke-width="1.2"/>
<line x1="1865.00" y1="1408.60" x2="1875.00" y2="1408.60" stroke-width="1.2"/>
<line x1="1884.50" y1="1408.60" x2="1894.50" y2="1408.60" stroke-width="1.2"/>
<line x1="1904.00" y1="1408.60" x2="1914.00" y2="1408.60" stroke-width="1.2"/>
<line x1="1923.50" y1="1408.60" x2="1933.50" y2="1408.60" stroke-width="1.2"/>
<line x1="1943.00" y1="1408.60" x2="1953.00" y2="1408.60" stroke-width="1.2"/>
<line x1="1962.50" y1="1408.60" x2="1972.50" y2="1408.60" stroke-width="1.2"/>
<line x1="1982.00" y1="1408.60" x2="1992.00" y2="1408.60" stroke-width="1.2"/>
<line x1="2001.50" y1="1408.60" x2="2011.50" y2="1408.60" stroke-width="1.2"/>
<line x1="2021.00" y1="1408.60" x2="2031.00" y2="1408.60" stroke-width="1.2"/>
<line x1="2040.50" y1="1408.60" x2="2050.50" y2="1408.60" stroke-width="1.2"/>
<line x1="2060.00" y1="1408.60" x2="2070.00" y2="1408.60" stroke-width="1.2"/>
<line x1="2079.50" y1="1408.60" x2="2089.50" y2="1408.60" stroke-width="1.2"/>
<line x1="2099.00" y1="1408.60" x2="2109.00" y2="1408.60" stroke-width="1.2"/>
<line x1="2118.50" y1="1408.60" x2="2128.50" y2="1408.60" stroke-width="1.2"/>
<polyline points="169.00,710.50 156.50,710.50 156.50,720.50" fill="none" stroke-width="4.4" stroke-linecap="butt" stroke-linejoin="miter"/>
<polyline points="225.50,710.50 238.00,710.50 238.00,720.50" fill="none" stroke-width="4.4" stroke-linecap="butt" stroke-linejoin="miter"/>
<polyline points="169.00,837.90 156.50,837.90 156.50,827.90" fill="none" stroke-width="4.4" stroke-linecap="butt" stroke-linejoin="miter"/>
<polyline points="225.50,837.90 238.00,837.90 238.00,827.90" fill="none" stroke-width="4.4" stroke-linecap="butt" stroke-linejoin="miter"/>
<polyline points="185.25,710.50 209.25,710.50" fill="none" stroke-width="4.4" stroke-linecap="butt" stroke-linejoin="miter"/>
<polyline points="185.25,837.90 209.25,837.90" fill="none" stroke-width="4.4" stroke-linecap="butt" stroke-linejoin="miter"/>
<polyline points="156.50,733.10 156.50,752.10" fill="none" stroke-width="4.4" stroke-linecap="butt" stroke-linejoin="miter"/>
<polyline points="156.50,764.70 156.50,783.70" fill="none" stroke-width="4.4" stroke-linecap="butt" stroke-linejoin="miter"/>
<polyline points="156.50,796.30 156.50,815.30" fill="none" stroke-width="4.4" stroke-linecap="butt" stroke-linejoin="miter"/>
<polyline points="238.00,733.10 238.00,752.10" fill="none" stroke-width="4.4" stroke-linecap="butt" stroke-linejoin="miter"/>
<polyline points="238.00,764.70 238.00,783.70" fill="none" stroke-width="4.4" stroke-linecap="butt" stroke-linejoin="miter"/>
<polyline points="238.00,796.30 238.00,815.30" fill="none" stroke-width="4.4" stroke-linecap="butt" stroke-linejoin="miter"/>
<polyline points="463.90,710.70 451.40,710.70 451.40,720.70" fill="none" stroke-width="4.4" stroke-linecap="butt" stroke-linejoin="miter"/>
<polyline points="518.70,710.70 531.20,710.70 531.20,720.70" fill="none" stroke-width="4.4" stroke-linecap="butt" stroke-linejoin="miter"/>
<polyline points="463.90,838.00 451.40,838.00 451.40,828.00" fill="none" stroke-width="4.4" stroke-linecap="butt" stroke-linejoin="miter"/>
<polyline points="518.70,838.00 531.20,838.00 531.20,828.00" fill="none" stroke-width="4.4" stroke-linecap="butt" stroke-linejoin="miter"/>
<polyline points="479.30,710.70 503.30,710.70" fill="none" stroke-width="4.4" stroke-linecap="butt" stroke-linejoin="miter"/>
<polyline points="479.30,838.00 503.30,838.00" fill="none" stroke-width="4.4" stroke-linecap="butt" stroke-linejoin="miter"/>
<polyline points="451.40,733.28 451.40,752.28" fill="none" stroke-width="4.4" stroke-linecap="butt" stroke-linejoin="miter"/>
<polyline points="451.40,764.85 451.40,783.85" fill="none" stroke-width="4.4" stroke-linecap="butt" stroke-linejoin="miter"/>
<polyline points="451.40,796.43 451.40,815.43" fill="none" stroke-width="4.4" stroke-linecap="butt" stroke-linejoin="miter"/>
<polyline points="531.20,733.28 531.20,752.28" fill="none" stroke-width="4.4" stroke-linecap="butt" stroke-linejoin="miter"/>
<polyline points="531.20,764.85 531.20,783.85" fill="none" stroke-width="4.4" stroke-linecap="butt" stroke-linejoin="miter"/>
<polyline points="531.20,796.43 531.20,815.43" fill="none" stroke-width="4.4" stroke-linecap="butt" stroke-linejoin="miter"/>
<polyline points="933.90,710.70 921.40,710.70 921.40,720.70" fill="none" stroke-width="4.4" stroke-linecap="butt" stroke-linejoin="miter"/>
<polyline points="989.40,710.70 1001.90,710.70 1001.90,720.70" fill="none" stroke-width="4.4" stroke-linecap="butt" stroke-linejoin="miter"/>
<polyline points="933.90,838.00 921.40,838.00 921.40,828.00" fill="none" stroke-width="4.4" stroke-linecap="butt" stroke-linejoin="miter"/>
<polyline points="989.40,838.00 1001.90,838.00 1001.90,828.00" fill="none" stroke-width="4.4" stroke-linecap="butt" stroke-linejoin="miter"/>
<polyline points="949.65,710.70 973.65,710.70" fill="none" stroke-width="4.4" stroke-linecap="butt" stroke-linejoin="miter"/>
<polyline points="949.65,838.00 973.65,838.00" fill="none" stroke-width="4.4" stroke-linecap="butt" stroke-linejoin="miter"/>
<polyline points="921.40,733.28 921.40,752.28" fill="none" stroke-width="4.4" stroke-linecap="butt" stroke-linejoin="miter"/>
<polyline points="921.40,764.85 921.40,783.85" fill="none" stroke-width="4.4" stroke-linecap="butt" stroke-linejoin="miter"/>
<polyline points="921.40,796.43 921.40,815.43" fill="none" stroke-width="4.4" stroke-linecap="butt" stroke-linejoin="miter"/>
<polyline points="1001.90,733.28 1001.90,752.28" fill="none" stroke-width="4.4" stroke-linecap="butt" stroke-linejoin="miter"/>
<polyline points="1001.90,764.85 1001.90,783.85" fill="none" stroke-width="4.4" stroke-linecap="butt" stroke-linejoin="miter"/>
<polyline points="1001.90,796.43 1001.90,815.43" fill="none" stroke-width="4.4" stroke-linecap="butt" stroke-linejoin="miter"/>
<polyline points="1184.10,710.70 1171.60,710.70 1171.60,720.70" fill="none" stroke-width="4.4" stroke-linecap="butt" stroke-linejoin="miter"/>
<polyline points="1239.30,710.70 1251.80,710.70 1251.80,720.70" fill="none" stroke-width="4.4" stroke-linecap="butt" stroke-linejoin="miter"/>
<polyline points="1184.10,837.80 1171.60,837.80 1171.60,827.80" fill="none" stroke-width="4.4" stroke-linecap="butt" stroke-linejoin="miter"/>
<polyline points="1239.30,837.80 1251.80,837.80 1251.80,827.80" fill="none" stroke-width="4.4" stroke-linecap="butt" stroke-linejoin="miter"/>
<polyline points="1199.70,710.70 1223.70,710.70" fill="none" stroke-width="4.4" stroke-linecap="butt" stroke-linejoin="miter"/>
<polyline points="1199.70,837.80 1223.70,837.80" fill="none" stroke-width="4.4" stroke-linecap="butt" stroke-linejoin="miter"/>
<polyline points="1171.60,733.23 1171.60,752.23" fill="none" stroke-width="4.4" stroke-linecap="butt" stroke-linejoin="miter"/>
<polyline points="1171.60,764.75 1171.60,783.75" fill="none" stroke-width="4.4" stroke-linecap="butt" stroke-linejoin="miter"/>
<polyline points="1171.60,796.27 1171.60,815.27" fill="none" stroke-width="4.4" stroke-linecap="butt" stroke-linejoin="miter"/>
<polyline points="1251.80,733.23 1251.80,752.23" fill="none" stroke-width="4.4" stroke-linecap="butt" stroke-linejoin="miter"/>
<polyline points="1251.80,764.75 1251.80,783.75" fill="none" stroke-width="4.4" stroke-linecap="butt" stroke-linejoin="miter"/>
<polyline points="1251.80,796.27 1251.80,815.27" fill="none" stroke-width="4.4" stroke-linecap="butt" stroke-linejoin="miter"/>
<polyline points="1629.20,710.70 1616.70,710.70 1616.70,720.70" fill="none" stroke-width="4.4" stroke-linecap="butt" stroke-linejoin="miter"/>
<polyline points="1685.70,710.70 1698.20,710.70 1698.20,720.70" fill="none" stroke-width="4.4" stroke-linecap="butt" stroke-linejoin="miter"/>
<polyline points="1629.20,836.80 1616.70,836.80 1616.70,826.80" fill="none" stroke-width="4.4" stroke-linecap="butt" stroke-linejoin="miter"/>
<polyline points="1685.70,836.80 1698.20,836.80 1698.20,826.80" fill="none" stroke-width="4.4" stroke-linecap="butt" stroke-linejoin="miter"/>
<polyline points="1645.45,710.70 1669.45,710.70" fill="none" stroke-width="4.4" stroke-linecap="butt" stroke-linejoin="miter"/>
<polyline points="1645.45,836.80 1669.45,836.80" fill="none" stroke-width="4.4" stroke-linecap="butt" stroke-linejoin="miter"/>
<polyline points="1616.70,732.98 1616.70,751.98" fill="none" stroke-width="4.4" stroke-linecap="butt" stroke-linejoin="miter"/>
<polyline points="1616.70,764.25 1616.70,783.25" fill="none" stroke-width="4.4" stroke-linecap="butt" stroke-linejoin="miter"/>
<polyline points="1616.70,795.52 1616.70,814.52" fill="none" stroke-width="4.4" stroke-linecap="butt" stroke-linejoin="miter"/>
<polyline points="1698.20,732.98 1698.20,751.98" fill="none" stroke-width="4.4" stroke-linecap="butt" stroke-linejoin="miter"/>
<polyline points="1698.20,764.25 1698.20,783.25" fill="none" stroke-width="4.4" stroke-linecap="butt" stroke-linejoin="miter"/>
<polyline points="1698.20,795.52 1698.20,814.52" fill="none" stroke-width="4.4" stroke-linecap="butt" stroke-linejoin="miter"/>
<polyline points="1898.30,710.70 1885.80,710.70 1885.80,720.70" fill="none" stroke-width="4.4" stroke-linecap="butt" stroke-linejoin="miter"/>
<polyline points="1954.90,710.70 1967.40,710.70 1967.40,720.70" fill="none" stroke-width="4.4" stroke-linecap="butt" stroke-linejoin="miter"/>
<polyline points="1898.30,836.80 1885.80,836.80 1885.80,826.80" fill="none" stroke-width="4.4" stroke-linecap="butt" stroke-linejoin="miter"/>
<polyline points="1954.90,836.80 1967.40,836.80 1967.40,826.80" fill="none" stroke-width="4.4" stroke-linecap="butt" stroke-linejoin="miter"/>
<polyline points="1914.60,710.70 1938.60,710.70" fill="none" stroke-width="4.4" stroke-linecap="butt" stroke-linejoin="miter"/>
<polyline points="1914.60,836.80 1938.60,836.80" fill="none" stroke-width="4.4" stroke-linecap="butt" stroke-linejoin="miter"/>
<polyline points="1885.80,732.98 1885.80,751.98" fill="none" stroke-width="4.4" stroke-linecap="butt" stroke-linejoin="miter"/>
<polyline points="1885.80,764.25 1885.80,783.25" fill="none" stroke-width="4.4" stroke-linecap="butt" stroke-linejoin="miter"/>
<polyline points="1885.80,795.52 1885.80,814.52" fill="none" stroke-width="4.4" stroke-linecap="butt" stroke-linejoin="miter"/>
<polyline points="1967.40,732.98 1967.40,751.98" fill="none" stroke-width="4.4" stroke-linecap="butt" stroke-linejoin="miter"/>
<polyline points="1967.40,764.25 1967.40,783.25" fill="none" stroke-width="4.4" stroke-linecap="butt" stroke-linejoin="miter"/>
<polyline points="1967.40,795.52 1967.40,814.52" fill="none" stroke-width="4.4" stroke-linecap="butt" stroke-linejoin="miter"/>
<polyline points="687.90,1106.00 675.40,1106.00 675.40,1116.00" fill="none" stroke-width="4.4" stroke-linecap="butt" stroke-linejoin="miter"/>
<polyline points="743.50,1106.00 756.00,1106.00 756.00,1116.00" fill="none" stroke-width="4.4" stroke-linecap="butt" stroke-linejoin="miter"/>
<polyline points="687.90,1213.30 675.40,1213.30 675.40,1203.30" fill="none" stroke-width="4.4" stroke-linecap="butt" stroke-linejoin="miter"/>
<polyline points="743.50,1213.30 756.00,1213.30 756.00,1203.30" fill="none" stroke-width="4.4" stroke-linecap="butt" stroke-linejoin="miter"/>
<polyline points="703.70,1106.00 727.70,1106.00" fill="none" stroke-width="4.4" stroke-linecap="butt" stroke-linejoin="miter"/>
<polyline points="703.70,1213.30 727.70,1213.30" fill="none" stroke-width="4.4" stroke-linecap="butt" stroke-linejoin="miter"/>
<polyline points="675.40,1132.43 675.40,1151.43" fill="none" stroke-width="4.4" stroke-linecap="butt" stroke-linejoin="miter"/>
<polyline points="675.40,1167.87 675.40,1186.87" fill="none" stroke-width="4.4" stroke-linecap="butt" stroke-linejoin="miter"/>
<polyline points="756.00,1132.43 756.00,1151.43" fill="none" stroke-width="4.4" stroke-linecap="butt" stroke-linejoin="miter"/>
<polyline points="756.00,1167.87 756.00,1186.87" fill="none" stroke-width="4.4" stroke-linecap="butt" stroke-linejoin="miter"/>
<polyline points="1414.20,1230.00 1401.70,1230.00 1401.70,1240.00" fill="none" stroke-width="4.4" stroke-linecap="butt" stroke-linejoin="miter"/>
<polyline points="1470.00,1230.00 1482.50,1230.00 1482.50,1240.00" fill="none" stroke-width="4.4" stroke-linecap="butt" stroke-linejoin="miter"/>
<polyline points="1414.20,1357.20 1401.70,1357.20 1401.70,1347.20" fill="none" stroke-width="4.4" stroke-linecap="butt" stroke-linejoin="miter"/>
<polyline points="1470.00,1357.20 1482.50,1357.20 1482.50,1347.20" fill="none" stroke-width="4.4" stroke-linecap="butt" stroke-linejoin="miter"/>
<polyline points="1430.10,1230.00 1454.10,1230.00" fill="none" stroke-width="4.4" stroke-linecap="butt" stroke-linejoin="miter"/>
<polyline points="1430.10,1357.20 1454.10,1357.20" fill="none" stroke-width="4.4" stroke-linecap="butt" stroke-linejoin="miter"/>
<polyline points="1401.70,1252.55 1401.70,1271.55" fill="none" stroke-width="4.4" stroke-linecap="butt" stroke-linejoin="miter"/>
<polyline points="1401.70,1284.10 1401.70,1303.10" fill="none" stroke-width="4.4" stroke-linecap="butt" stroke-linejoin="miter"/>
<polyline points="1401.70,1315.65 1401.70,1334.65" fill="none" stroke-width="4.4" stroke-linecap="butt" stroke-linejoin="miter"/>
<polyline points="1482.50,1252.55 1482.50,1271.55" fill="none" stroke-width="4.4" stroke-linecap="butt" stroke-linejoin="miter"/>
<polyline points="1482.50,1284.10 1482.50,1303.10" fill="none" stroke-width="4.4" stroke-linecap="butt" stroke-linejoin="miter"/>
<polyline points="1482.50,1315.65 1482.50,1334.65" fill="none" stroke-width="4.4" stroke-linecap="butt" stroke-linejoin="miter"/>
<polyline points="2112.60,1047.30 2100.10,1047.30 2100.10,1057.30" fill="none" stroke-width="4.4" stroke-linecap="butt" stroke-linejoin="miter"/>
<polyline points="2169.10,1047.30 2181.60,1047.30 2181.60,1057.30" fill="none" stroke-width="4.4" stroke-linecap="butt" stroke-linejoin="miter"/>
<polyline points="2112.60,1173.40 2100.10,1173.40 2100.10,1163.40" fill="none" stroke-width="4.4" stroke-linecap="butt" stroke-linejoin="miter"/>
<polyline points="2169.10,1173.40 2181.60,1173.40 2181.60,1163.40" fill="none" stroke-width="4.4" stroke-linecap="butt" stroke-linejoin="miter"/>
<polyline points="2128.85,1047.30 2152.85,1047.30" fill="none" stroke-width="4.4" stroke-linecap="butt" stroke-linejoin="miter"/>
<polyline points="2128.85,1173.40 2152.85,1173.40" fill="none" stroke-width="4.4" stroke-linecap="butt" stroke-linejoin="miter"/>
<polyline points="2100.10,1069.58 2100.10,1088.58" fill="none" stroke-width="4.4" stroke-linecap="butt" stroke-linejoin="miter"/>
<polyline points="2100.10,1100.85 2100.10,1119.85" fill="none" stroke-width="4.4" stroke-linecap="butt" stroke-linejoin="miter"/>
<polyline points="2100.10,1132.13 2100.10,1151.13" fill="none" stroke-width="4.4" stroke-linecap="butt" stroke-linejoin="miter"/>
<polyline points="2181.60,1069.58 2181.60,1088.58" fill="none" stroke-width="4.4" stroke-linecap="butt" stroke-linejoin="miter"/>
<polyline points="2181.60,1100.85 2181.60,1119.85" fill="none" stroke-width="4.4" stroke-linecap="butt" stroke-linejoin="miter"/>
<polyline points="2181.60,1132.13 2181.60,1151.13" fill="none" stroke-width="4.4" stroke-linecap="butt" stroke-linejoin="miter"/>
<rect x="1874.20" y="49.10" width="141.50" height="86.50" stroke-width="4.6" fill="none"/>
<line x1="1874.20" y1="78.00" x2="2015.70" y2="78.00" stroke-width="4"/>
<rect x="2287.40" y="31.20" width="73.20" height="69.20" stroke-width="4.8" fill="none"/>
<rect x="2287.40" y="129.40" width="73.20" height="68.00" stroke-width="4.8" fill="none"/>
<rect x="2287.40" y="226.20" width="73.20" height="69.20" stroke-width="4.8" fill="none"/>
<rect x="2287.40" y="324.40" width="73.20" height="68.90" stroke-width="4.8" fill="none"/>
<polygon points="2301,256 2324.2,256 2324.2,243.9 2346.9,261.6 2324.2,279.9 2324.2,267.8 2301,267.8" fill="#000" stroke="none"/>
<polygon points="2347,352 2323.7,352 2323.7,341 2301,359.1 2323.7,375.6 2323.7,364.8 2347,364.8" fill="#000" stroke="none"/>
<polygon points="2325.9,420.1 2366.9,491.7 2284.0,491.7" fill="#000" stroke="none"/>
<rect x="2315.9" y="438.9" width="19.2" height="4.1" fill="#fff" stroke="none"/>
<rect x="2315.9" y="462.0" width="19.2" height="4.0" fill="#fff" stroke="none"/>
<rect x="2318.9" y="444.0" width="4.1" height="17.0" fill="#fff" stroke="none"/>
<rect x="2327.9" y="444.0" width="4.1" height="17.0" fill="#fff" stroke="none"/>
<rect x="2297.9" y="470.9" width="56.2" height="17.0" fill="#fff" stroke="none"/>
<text transform="matrix(1.0000,0,0,1,2296.47,58.00)" font-size="26" fill="#000">L</text>
<text transform="matrix(1.0000,0,0,1,2311.67,75.60)" font-size="26" fill="#000">O</text>
<text transform="matrix(1.0000,0,0,1,2328.58,91.40)" font-size="26" fill="#000">C</text>
<text transform="matrix(1.0000,0,0,1,2290.37,150.90)" font-size="26" fill="#000">D</text>
<text transform="matrix(1.0000,0,0,1,2306.57,163.90)" font-size="26" fill="#000">E</text>
<text transform="matrix(1.0000,0,0,1,2321.42,179.40)" font-size="26" fill="#000">S</text>
<text transform="matrix(1.0000,0,0,1,2333.68,194.40)" font-size="26" fill="#000">C</text>
<text transform="matrix(1.0000,0,0,1,2302.02,484.90)" font-size="16.5" font-weight="bold" fill="#000">OBD II</text>
<text transform="matrix(0.9520,0,0,1,267.60,70.90)" font-size="23.6" fill="#000">5V Reference</text>
<text transform="matrix(0.9520,0,0,1,1591.00,70.90)" font-size="23.6" fill="#000">5V Reference</text>
<text transform="matrix(0.9520,0,0,1,1897.94,71.70)" font-size="23.5" fill="#000">CONN ID</text>
<text transform="matrix(0.9180,0,0,1,1886.56,101.60)" font-size="24.5" fill="#000">C1=80 BLU</text>
<text transform="matrix(0.9180,0,0,1,1886.56,129.00)" font-size="24.5" fill="#000">C2=80 CLR</text>
<text transform="matrix(0.9520,0,0,1,565.86,1446.00)" font-size="23.6" fill="#000">Low</text>
<text transform="matrix(0.9520,0,0,1,565.86,1473.90)" font-size="23.6" fill="#000">Reference</text>
<text transform="matrix(0.9520,0,0,1,378.86,1616.00)" font-size="23.6" fill="#000">Low</text>
<text transform="matrix(0.9520,0,0,1,378.86,1643.80)" font-size="23.6" fill="#000">Reference</text>
<text transform="matrix(0.9570,0,0,1,2043.09,55.00)" font-size="33.3" fill="#000">Powertrain</text>
<text transform="matrix(0.9570,0,0,1,2218.99,1439.80)" font-size="33.3" fill="#000">Powertrain</text>
<text transform="matrix(0.9570,0,0,1,2044.08,89.05)" font-size="33.3" fill="#000">Control</text>
<text transform="matrix(0.9570,0,0,1,2219.98,1473.95)" font-size="33.3" fill="#000">Control</text>
<text transform="matrix(0.9570,0,0,1,2043.09,123.10)" font-size="33.3" fill="#000">Module</text>
<text transform="matrix(0.9570,0,0,1,2218.99,1508.10)" font-size="33.3" fill="#000">Module</text>
<text transform="matrix(0.9570,0,0,1,2043.72,157.15)" font-size="33.3" fill="#000">(PCM)</text>
<text transform="matrix(0.9570,0,0,1,2219.62,1542.25)" font-size="33.3" fill="#000">(PCM)</text>
<text transform="matrix(0.9570,0,0,1,145.00,315.40)" font-size="33.3" fill="#000">30</text>
<text transform="matrix(0.9570,0,0,1,213.88,315.40)" font-size="33.3" fill="#000">C2</text>
<text transform="matrix(0.9570,0,0,1,439.00,315.40)" font-size="33.3" fill="#000">10</text>
<text transform="matrix(0.9570,0,0,1,508.08,315.40)" font-size="33.3" fill="#000">C1</text>
<text transform="matrix(0.9570,0,0,1,908.95,315.40)" font-size="33.3" fill="#000">33</text>
<text transform="matrix(0.9570,0,0,1,1160.76,315.40)" font-size="33.3" fill="#000">32</text>
<text transform="matrix(0.9570,0,0,1,1603.39,315.40)" font-size="33.3" fill="#000">34</text>
<text transform="matrix(0.9570,0,0,1,1673.38,315.40)" font-size="33.3" fill="#000">C2</text>
<text transform="matrix(0.9570,0,0,1,146.61,1398.40)" font-size="33.3" fill="#000">31</text>
<text transform="matrix(0.9570,0,0,1,439.65,1398.40)" font-size="33.3" fill="#000">13</text>
<text transform="matrix(0.9570,0,0,1,554.76,1398.40)" font-size="33.3" fill="#000">29</text>
<text transform="matrix(0.9570,0,0,1,623.58,1398.40)" font-size="33.3" fill="#000">C1</text>
<text transform="matrix(0.9570,0,0,1,746.50,1398.40)" font-size="33.3" fill="#000">80</text>
<text transform="matrix(0.9570,0,0,1,815.58,1398.40)" font-size="33.3" fill="#000">C2</text>
<text transform="matrix(0.9570,0,0,1,908.81,1398.40)" font-size="33.3" fill="#000">61</text>
<text transform="matrix(0.9570,0,0,1,981.58,1398.40)" font-size="33.3" fill="#000">C1</text>
<text transform="matrix(0.9570,0,0,1,1159.29,1398.40)" font-size="33.3" fill="#000">35</text>
<text transform="matrix(0.9570,0,0,1,1229.28,1398.40)" font-size="33.3" fill="#000">C2</text>
<text transform="matrix(0.9570,0,0,1,1606.70,1398.40)" font-size="33.3" fill="#000">80</text>
<text transform="matrix(0.9570,0,0,1,1877.16,1398.40)" font-size="33.3" fill="#000">17</text>
<text transform="matrix(0.9570,0,0,1,2089.46,1398.40)" font-size="33.3" fill="#000">12</text>
<text transform="matrix(0.9570,0,0,1,2158.88,1398.40)" font-size="33.3" fill="#000">C1</text>
<text transform="matrix(0.9570,0,0,1,39.36,546.20)" font-size="33.3" fill="#000">0.5</text>
<text transform="matrix(0.9570,0,0,1,37.99,579.90)" font-size="33.3" fill="#000">BRN/WHT</text>
<text transform="matrix(0.9570,0,0,1,211.30,579.90)" font-size="33.3" fill="#000">2702</text>
<text transform="matrix(0.9570,0,0,1,159.01,692.30)" font-size="33.3" fill="#000">D</text>
<text transform="matrix(0.9570,0,0,1,160.92,879.00)" font-size="33.3" fill="#000">B</text>
<text transform="matrix(0.9570,0,0,1,71.87,1113.60)" font-size="33.3" fill="#000">0.5 BLK</text>
<text transform="matrix(0.9570,0,0,1,210.20,1113.60)" font-size="33.3" fill="#000">2753</text>
<text transform="matrix(0.9570,0,0,1,247.69,731.70)" font-size="33.3" fill="#000">Exhaust</text>
<text transform="matrix(0.9570,0,0,1,248.70,765.90)" font-size="33.3" fill="#000">Gas</text>
<text transform="matrix(0.9570,0,0,1,247.69,800.10)" font-size="33.3" fill="#000">Recirculation</text>
<text transform="matrix(0.9570,0,0,1,248.32,834.30)" font-size="33.3" fill="#000">(EGR)</text>
<text transform="matrix(0.9570,0,0,1,250.16,868.50)" font-size="33.3" fill="#000">Valve</text>
<text transform="matrix(0.9570,0,0,1,342.14,415.60)" font-size="33.3" fill="#000">0.35 BRN</text>
<text transform="matrix(0.9570,0,0,1,503.50,415.60)" font-size="33.3" fill="#000">2704</text>
<text transform="matrix(0.9570,0,0,1,454.10,542.50)" font-size="33.3" fill="#000">K</text>
<text transform="matrix(0.9570,0,0,1,508.68,542.50)" font-size="33.3" fill="#000">C130</text>
<text transform="matrix(0.9570,0,0,1,356.09,610.00)" font-size="33.3" fill="#000">0.5 GRY</text>
<text transform="matrix(0.9570,0,0,1,503.50,610.00)" font-size="33.3" fill="#000">2704</text>
<text transform="matrix(0.9570,0,0,1,453.20,692.30)" font-size="33.3" fill="#000">C</text>
<text transform="matrix(0.9570,0,0,1,543.09,731.70)" font-size="33.3" fill="#000">Manifold</text>
<text transform="matrix(0.9570,0,0,1,545.64,765.90)" font-size="33.3" fill="#000">Absolute</text>
<text transform="matrix(0.9570,0,0,1,543.09,800.10)" font-size="33.3" fill="#000">Pressure</text>
<text transform="matrix(0.9570,0,0,1,543.72,834.30)" font-size="33.3" fill="#000">(MAP)</text>
<text transform="matrix(0.9570,0,0,1,544.25,868.50)" font-size="33.3" fill="#000">Sensor</text>
<text transform="matrix(0.9570,0,0,1,453.01,879.00)" font-size="33.3" fill="#000">A</text>
<text transform="matrix(0.9570,0,0,1,339.66,930.90)" font-size="33.3" fill="#000">0.5</text>
<text transform="matrix(0.9570,0,0,1,339.39,965.60)" font-size="33.3" fill="#000">ORN/BLK</text>
<text transform="matrix(0.9570,0,0,1,504.37,965.00)" font-size="33.3" fill="#000">469</text>
<text transform="matrix(0.9570,0,0,1,396.98,1044.50)" font-size="33.3" fill="#000">S102</text>
<text transform="matrix(0.9570,0,0,1,571.46,989.00)" font-size="33.3" fill="#000">0.5</text>
<text transform="matrix(0.9570,0,0,1,571.19,1023.00)" font-size="33.3" fill="#000">ORN/BLK</text>
<text transform="matrix(0.9570,0,0,1,572.47,1066.10)" font-size="33.3" fill="#000">469</text>
<text transform="matrix(0.9570,0,0,1,339.66,1084.80)" font-size="33.3" fill="#000">0.5</text>
<text transform="matrix(0.9570,0,0,1,339.39,1119.60)" font-size="33.3" fill="#000">ORN/BLK</text>
<text transform="matrix(0.9570,0,0,1,504.37,1119.20)" font-size="33.3" fill="#000">469</text>
<text transform="matrix(0.9570,0,0,1,456.53,1170.80)" font-size="33.3" fill="#000">L</text>
<text transform="matrix(0.9570,0,0,1,507.68,1170.80)" font-size="33.3" fill="#000">C130</text>
<text transform="matrix(0.9570,0,0,1,340.46,1225.20)" font-size="33.3" fill="#000">0.35</text>
<text transform="matrix(0.9570,0,0,1,340.19,1259.90)" font-size="33.3" fill="#000">ORN/BLK</text>
<text transform="matrix(0.9570,0,0,1,504.87,1259.90)" font-size="33.3" fill="#000">469</text>
<text transform="matrix(0.9570,0,0,1,676.91,1087.00)" font-size="33.3" fill="#000">A</text>
<text transform="matrix(0.9570,0,0,1,763.69,1127.40)" font-size="33.3" fill="#000">Engine</text>
<text transform="matrix(0.9570,0,0,1,764.68,1161.50)" font-size="33.3" fill="#000">Coolant</text>
<text transform="matrix(0.9570,0,0,1,765.58,1195.60)" font-size="33.3" fill="#000">Temperature</text>
<text transform="matrix(0.9570,0,0,1,764.32,1229.70)" font-size="33.3" fill="#000">(ECT)</text>
<text transform="matrix(0.9570,0,0,1,764.85,1263.80)" font-size="33.3" fill="#000">Sensor</text>
<text transform="matrix(0.9570,0,0,1,657.74,1347.50)" font-size="33.3" fill="#000">0.35 BLK</text>
<text transform="matrix(0.9570,0,0,1,813.82,1347.50)" font-size="33.3" fill="#000">808</text>
<text transform="matrix(0.9570,0,0,1,740.23,561.60)" font-size="33.3" fill="#000">0.35 GRY/BLK</text>
<text transform="matrix(0.9570,0,0,1,973.40,561.60)" font-size="33.3" fill="#000">2701</text>
<text transform="matrix(0.9570,0,0,1,925.11,692.30)" font-size="33.3" fill="#000">A</text>
<text transform="matrix(0.9570,0,0,1,1015.18,731.70)" font-size="33.3" fill="#000">Throttle</text>
<text transform="matrix(0.9570,0,0,1,1013.29,765.90)" font-size="33.3" fill="#000">Position</text>
<text transform="matrix(0.9570,0,0,1,1013.92,800.10)" font-size="33.3" fill="#000">(TP)</text>
<text transform="matrix(0.9570,0,0,1,1014.45,834.30)" font-size="33.3" fill="#000">Sensor</text>
<text transform="matrix(0.9570,0,0,1,924.62,879.00)" font-size="33.3" fill="#000">B</text>
<text transform="matrix(0.9570,0,0,1,817.94,1005.30)" font-size="33.3" fill="#000">0.35 BLK</text>
<text transform="matrix(0.9570,0,0,1,974.60,1005.30)" font-size="33.3" fill="#000">2752</text>
<text transform="matrix(0.9570,0,0,1,1057.96,355.80)" font-size="33.3" fill="#000">0.35 GRY</text>
<text transform="matrix(0.9570,0,0,1,1224.40,355.80)" font-size="33.3" fill="#000">2709</text>
<text transform="matrix(0.9570,0,0,1,1239.79,393.70)" font-size="33.3" fill="#000">P100</text>
<text transform="matrix(0.9570,0,0,1,1175.41,447.20)" font-size="33.3" fill="#000">F</text>
<text transform="matrix(0.9570,0,0,1,1229.08,447.20)" font-size="33.3" fill="#000">C300</text>
<text transform="matrix(0.9570,0,0,1,1057.96,523.00)" font-size="33.3" fill="#000">0.35 GRY</text>
<text transform="matrix(0.9570,0,0,1,1224.40,523.00)" font-size="33.3" fill="#000">2709</text>
<text transform="matrix(0.9570,0,0,1,1158.19,572.20)" font-size="33.3" fill="#000">3F</text>
<text transform="matrix(0.9570,0,0,1,1229.08,572.20)" font-size="33.3" fill="#000">C413</text>
<text transform="matrix(0.9570,0,0,1,1075.69,634.90)" font-size="33.3" fill="#000">0.5 GRY</text>
<text transform="matrix(0.9570,0,0,1,1225.27,634.90)" font-size="33.3" fill="#000">416</text>
<text transform="matrix(0.9570,0,0,1,1172.30,692.30)" font-size="33.3" fill="#000">C</text>
<text transform="matrix(0.9570,0,0,1,1264.09,731.70)" font-size="33.3" fill="#000">Fuel</text>
<text transform="matrix(0.9570,0,0,1,1265.98,765.90)" font-size="33.3" fill="#000">Tank</text>
<text transform="matrix(0.9570,0,0,1,1264.09,800.10)" font-size="33.3" fill="#000">Pressure</text>
<text transform="matrix(0.9570,0,0,1,1264.72,834.30)" font-size="33.3" fill="#000">(FTP)</text>
<text transform="matrix(0.9570,0,0,1,1265.25,868.50)" font-size="33.3" fill="#000">Sensor</text>
<text transform="matrix(0.9570,0,0,1,1172.41,879.10)" font-size="33.3" fill="#000">A</text>
<text transform="matrix(0.9570,0,0,1,1060.06,891.10)" font-size="33.3" fill="#000">0.5</text>
<text transform="matrix(0.9570,0,0,1,1059.79,926.20)" font-size="33.3" fill="#000">ORN/BLK</text>
<text transform="matrix(0.9570,0,0,1,1225.27,926.20)" font-size="33.3" fill="#000">469</text>
<text transform="matrix(0.9570,0,0,1,1155.46,966.90)" font-size="33.3" fill="#000">3H</text>
<text transform="matrix(0.9570,0,0,1,1229.08,966.90)" font-size="33.3" fill="#000">C413</text>
<text transform="matrix(0.9570,0,0,1,1171.58,1011.40)" font-size="33.3" fill="#000">H</text>
<text transform="matrix(0.9570,0,0,1,1299.84,1049.00)" font-size="33.3" fill="#000">0.35 BLK</text>
<text transform="matrix(0.9570,0,0,1,1455.50,1049.00)" font-size="33.3" fill="#000">2759</text>
<text transform="matrix(0.9570,0,0,1,1067.54,1090.10)" font-size="33.3" fill="#000">0.35 BLK</text>
<text transform="matrix(0.9570,0,0,1,1224.10,1090.10)" font-size="33.3" fill="#000">2759</text>
<text transform="matrix(0.9570,0,0,1,1385.70,1092.30)" font-size="33.3" fill="#000">3B</text>
<text transform="matrix(0.9570,0,0,1,1457.88,1092.30)" font-size="33.3" fill="#000">C413</text>
<text transform="matrix(0.9570,0,0,1,1402.72,1135.90)" font-size="33.3" fill="#000">B</text>
<text transform="matrix(0.9570,0,0,1,1235.03,1175.50)" font-size="33.3" fill="#000">0.8 BLK/WHT</text>
<text transform="matrix(0.9570,0,0,1,1454.88,1175.50)" font-size="33.3" fill="#000">651</text>
<text transform="matrix(0.9570,0,0,1,1403.91,1210.50)" font-size="33.3" fill="#000">D</text>
<text transform="matrix(0.9570,0,0,1,1173.51,1219.70)" font-size="33.3" fill="#000">E</text>
<text transform="matrix(0.9570,0,0,1,1229.28,1219.70)" font-size="33.3" fill="#000">C300</text>
<text transform="matrix(0.9570,0,0,1,1492.59,1250.20)" font-size="33.3" fill="#000">Fuel Pump</text>
<text transform="matrix(0.9570,0,0,1,1493.85,1283.73)" font-size="33.3" fill="#000">and</text>
<text transform="matrix(0.9570,0,0,1,1493.75,1317.26)" font-size="33.3" fill="#000">Sender</text>
<text transform="matrix(0.9570,0,0,1,1495.14,1350.79)" font-size="33.3" fill="#000">Assembly</text>
<text transform="matrix(0.9570,0,0,1,1067.54,1302.00)" font-size="33.3" fill="#000">0.35 BLK</text>
<text transform="matrix(0.9570,0,0,1,1224.10,1302.00)" font-size="33.3" fill="#000">2759</text>
<text transform="matrix(0.9570,0,0,1,1504.66,569.40)" font-size="33.3" fill="#000">0.35 GRY</text>
<text transform="matrix(0.9570,0,0,1,1670.30,569.40)" font-size="33.3" fill="#000">2700</text>
<text transform="matrix(0.9570,0,0,1,1623.52,690.80)" font-size="33.3" fill="#000">B</text>
<text transform="matrix(0.9570,0,0,1,1711.74,731.50)" font-size="33.3" fill="#000">A/C</text>
<text transform="matrix(0.9570,0,0,1,1709.19,765.70)" font-size="33.3" fill="#000">Refrigerant</text>
<text transform="matrix(0.9570,0,0,1,1709.19,799.90)" font-size="33.3" fill="#000">Pressure</text>
<text transform="matrix(0.9570,0,0,1,1710.35,834.10)" font-size="33.3" fill="#000">Sensor</text>
<text transform="matrix(0.9570,0,0,1,1618.71,878.80)" font-size="33.3" fill="#000">A</text>
<text transform="matrix(0.9570,0,0,1,1513.04,974.80)" font-size="33.3" fill="#000">0.35 BLK</text>
<text transform="matrix(0.9570,0,0,1,1668.40,974.80)" font-size="33.3" fill="#000">2751</text>
<text transform="matrix(0.9570,0,0,1,1978.06,731.50)" font-size="33.3" fill="#000">Intake</text>
<text transform="matrix(0.9570,0,0,1,1980.94,765.70)" font-size="33.3" fill="#000">Air</text>
<text transform="matrix(0.9570,0,0,1,1980.28,799.90)" font-size="33.3" fill="#000">Temperature</text>
<text transform="matrix(0.9570,0,0,1,1979.02,834.10)" font-size="33.3" fill="#000">(IAT)</text>
<text transform="matrix(0.9570,0,0,1,1979.55,868.30)" font-size="33.3" fill="#000">Sensor</text>
<text transform="matrix(0.9570,0,0,1,1887.21,878.80)" font-size="33.3" fill="#000">A</text>
<text transform="matrix(0.9570,0,0,1,1781.54,974.80)" font-size="33.3" fill="#000">0.35 BLK</text>
<text transform="matrix(0.9570,0,0,1,1937.00,974.80)" font-size="33.3" fill="#000">2760</text>
<text transform="matrix(0.9570,0,0,1,2191.99,1067.70)" font-size="33.3" fill="#000">Heated</text>
<text transform="matrix(0.9570,0,0,1,2193.09,1102.15)" font-size="33.3" fill="#000">Oxygen</text>
<text transform="matrix(0.9570,0,0,1,2193.15,1136.60)" font-size="33.3" fill="#000">Sensor</text>
<text transform="matrix(0.9570,0,0,1,2192.62,1171.05)" font-size="33.3" fill="#000">(HO2S) 1</text>
<text transform="matrix(0.9570,0,0,1,2100.81,1231.10)" font-size="33.3" fill="#000">A</text>
<text transform="matrix(0.9570,0,0,1,2012.71,1327.20)" font-size="33.3" fill="#000">0.8 TAN</text>
<text transform="matrix(0.9570,0,0,1,2154.07,1327.20)" font-size="33.3" fill="#000">413</text>
</svg>
</body></html>
